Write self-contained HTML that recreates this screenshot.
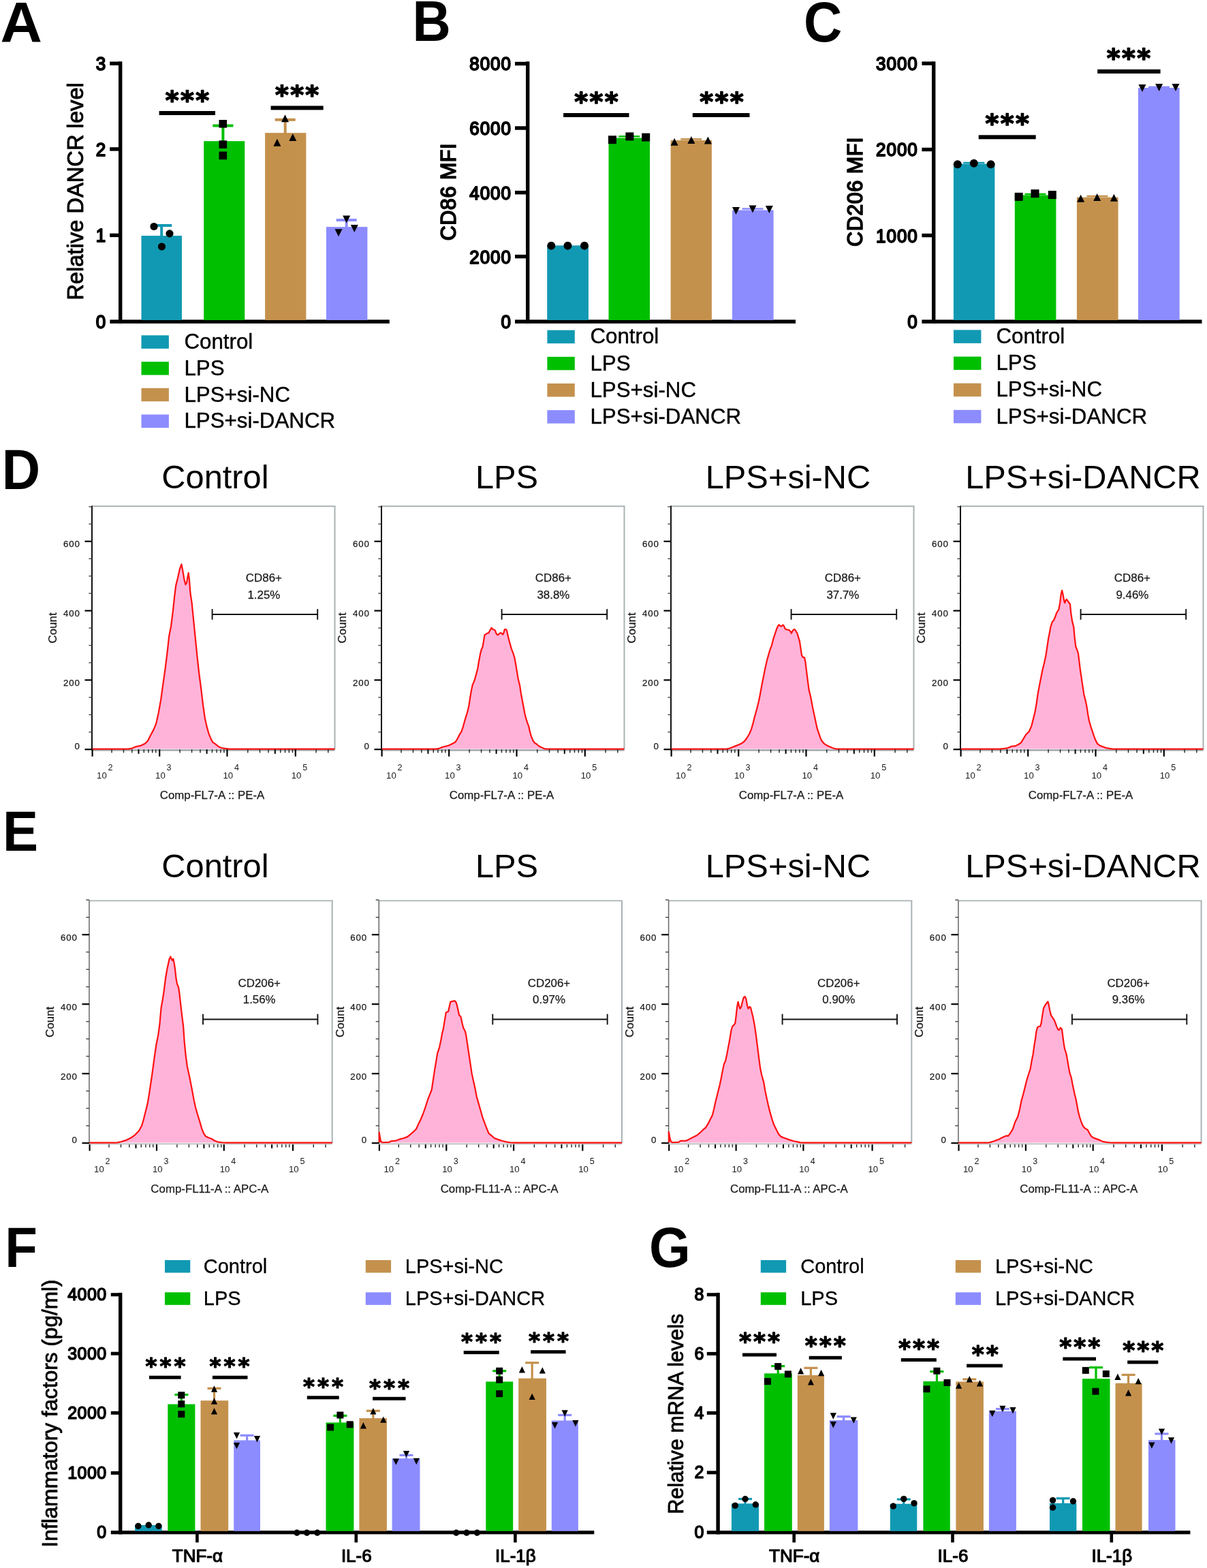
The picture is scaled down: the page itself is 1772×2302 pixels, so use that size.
<!DOCTYPE html>
<html><head><meta charset="utf-8"><title>Figure</title>
<style>
html,body{margin:0;padding:0;background:#fff;width:1772px;height:2302px;overflow:hidden}
svg{display:block}
svg text{font-family:"Liberation Sans",Arial,Helvetica,sans-serif}
</style></head><body>
<svg width="1772" height="2302" viewBox="0 0 1772 2302">
<rect x="0" y="0" width="1772" height="2302" fill="#fff"/>
<rect x="174" y="90.3" width="5.4" height="384.6" fill="#000" />
<rect x="161.4" y="469.4" width="410.4" height="5.5" fill="#000" />
<rect x="161.2" y="90.5" width="14.8" height="5.4" fill="#000" />
<rect x="161.2" y="216.2" width="14.8" height="5.4" fill="#000" />
<rect x="161.2" y="342.7" width="14.8" height="5.4" fill="#000" />
<text transform="translate(155.2 103.15) scale(1 1.040)" font-size="26" text-anchor="end"  stroke="#000" stroke-width="1.8" stroke-linejoin="round">3</text>
<text transform="translate(155.2 228.85) scale(1 1.040)" font-size="26" text-anchor="end"  stroke="#000" stroke-width="1.8" stroke-linejoin="round">2</text>
<text transform="translate(155.2 355.35) scale(1 1.040)" font-size="26" text-anchor="end"  stroke="#000" stroke-width="1.8" stroke-linejoin="round">1</text>
<text transform="translate(155.2 482.05) scale(1 1.040)" font-size="26" text-anchor="end"  stroke="#000" stroke-width="1.8" stroke-linejoin="round">0</text>
<text transform="translate(121.7 281) rotate(-90)" font-size="32.7" text-anchor="middle"  stroke="#000" stroke-width="0.9" stroke-linejoin="round">Relative DANCR level</text>
<rect x="207.5" y="346.1" width="59.5" height="123.9" fill="#1199b3" />
<rect x="299.2" y="207.2" width="60.1" height="262.8" fill="#00bf00" />
<rect x="389.1" y="195.1" width="60.3" height="274.9" fill="#c4914d" />
<rect x="479" y="333.1" width="60.4" height="136.9" fill="#8c8cff" />
<rect x="235.2" y="331" width="4" height="16.1" fill="#1199b3" />
<rect x="222.2" y="329" width="30" height="4" fill="#1199b3" />
<rect x="325.4" y="184.5" width="4" height="23.7" fill="#00bf00" />
<rect x="312.4" y="182.5" width="30" height="4" fill="#00bf00" />
<rect x="416.7" y="175.8" width="4" height="20.3" fill="#c4914d" />
<rect x="403.7" y="173.8" width="30" height="4" fill="#c4914d" />
<rect x="506.7" y="323.1" width="4" height="11" fill="#8c8cff" />
<rect x="493.7" y="321.1" width="30" height="4" fill="#8c8cff" />
<circle cx="226" cy="332.5" r="5.6" fill="#000"/>
<circle cx="249" cy="342.9" r="5.6" fill="#000"/>
<circle cx="237.5" cy="362" r="5.6" fill="#000"/>
<rect x="321.5" y="176" width="11.6" height="11.6" fill="#000" />
<rect x="321.5" y="206.3" width="11.6" height="11.6" fill="#000" />
<rect x="321.5" y="222.6" width="11.6" height="11.6" fill="#000" />
<polygon points="418.5,168.3 413,179.3 424,179.3" fill="#000"/>
<polygon points="429.8,196.1 424.3,207.1 435.3,207.1" fill="#000"/>
<polygon points="406.9,203.8 401.4,214.8 412.4,214.8" fill="#000"/>
<polygon points="508.7,327.5 503.2,316.5 514.2,316.5" fill="#000"/>
<polygon points="520.3,341.1 514.8,330.1 525.8,330.1" fill="#000"/>
<polygon points="497,347.3 491.5,336.3 502.5,336.3" fill="#000"/>
<rect x="233.6" y="163" width="82.4" height="6" fill="#000" />
<text x="252.7 274.9 297.1" y="160.1" font-size="38" font-weight="bold" text-anchor="middle" stroke="#000" stroke-width="1.6" stroke-linejoin="round" style="font-family:'DejaVu Sans','Liberation Sans',sans-serif">***</text>
<rect x="397.6" y="155.4" width="77.1" height="6" fill="#000" />
<text x="413.9 436.1 458.3" y="151.7" font-size="38" font-weight="bold" text-anchor="middle" stroke="#000" stroke-width="1.6" stroke-linejoin="round" style="font-family:'DejaVu Sans','Liberation Sans',sans-serif">***</text>
<rect x="207.5" y="492.3" width="40.4" height="19.5" fill="#1199b3" />
<text transform="translate(270.4 512) scale(1 1.030)" font-size="31.3"  stroke="#000" stroke-width="0.4" stroke-linejoin="round">Control</text>
<rect x="207.5" y="531.05" width="40.4" height="19.5" fill="#00bf00" />
<text transform="translate(270.4 550.75) scale(1 1.030)" font-size="31.3"  stroke="#000" stroke-width="0.4" stroke-linejoin="round">LPS</text>
<rect x="207.5" y="569.8" width="40.4" height="19.5" fill="#c4914d" />
<text transform="translate(270.4 589.5) scale(1 1.030)" font-size="31.3"  stroke="#000" stroke-width="0.4" stroke-linejoin="round">LPS+si-NC</text>
<rect x="207.5" y="608.55" width="40.4" height="19.5" fill="#8c8cff" />
<text transform="translate(270.4 628.25) scale(1 1.030)" font-size="31.3"  stroke="#000" stroke-width="0.4" stroke-linejoin="round">LPS+si-DANCR</text>
<rect x="772" y="90.3" width="5.4" height="384.6" fill="#000" />
<rect x="756" y="469.4" width="412" height="5.5" fill="#000" />
<rect x="756" y="90.8" width="18" height="5.4" fill="#000" />
<rect x="756" y="185.3" width="18" height="5.4" fill="#000" />
<rect x="756" y="280" width="18" height="5.4" fill="#000" />
<rect x="756" y="373.9" width="18" height="5.4" fill="#000" />
<text transform="translate(751 103.45) scale(1 1.040)" font-size="26" text-anchor="end"  letter-spacing="1" stroke="#000" stroke-width="1.8" stroke-linejoin="round">8000</text>
<text transform="translate(751 197.95) scale(1 1.040)" font-size="26" text-anchor="end"  letter-spacing="1" stroke="#000" stroke-width="1.8" stroke-linejoin="round">6000</text>
<text transform="translate(751 292.65) scale(1 1.040)" font-size="26" text-anchor="end"  letter-spacing="1" stroke="#000" stroke-width="1.8" stroke-linejoin="round">4000</text>
<text transform="translate(751 386.55) scale(1 1.040)" font-size="26" text-anchor="end"  letter-spacing="1" stroke="#000" stroke-width="1.8" stroke-linejoin="round">2000</text>
<text transform="translate(751 482.05) scale(1 1.040)" font-size="26" text-anchor="end"  letter-spacing="1" stroke="#000" stroke-width="1.8" stroke-linejoin="round">0</text>
<text transform="translate(669.4 281.6) rotate(-90)" font-size="30.5" text-anchor="middle" letter-spacing="0.55" stroke="#000" stroke-width="1.6" stroke-linejoin="round">CD86 MFI</text>
<rect x="803.2" y="360.4" width="60.8" height="109.6" fill="#1199b3" />
<rect x="893.5" y="202.5" width="60.5" height="267.5" fill="#00bf00" />
<rect x="984.6" y="206" width="60.3" height="264" fill="#c4914d" />
<rect x="1075" y="308.5" width="60.6" height="161.5" fill="#8c8cff" />
<rect x="922.45" y="200.2" width="2.5" height="1.8" fill="#00bf00" />
<rect x="908.2" y="198.95" width="31" height="2.5" fill="#00bf00" />
<rect x="1013.45" y="204.3" width="2.5" height="1.7" fill="#c4914d" />
<rect x="999.2" y="203.05" width="31" height="2.5" fill="#c4914d" />
<rect x="1103.75" y="306.5" width="2.5" height="1.5" fill="#8c8cff" />
<rect x="1089.5" y="305.25" width="31" height="2.5" fill="#8c8cff" />
<circle cx="809.3" cy="360.8" r="6" fill="#000"/>
<circle cx="833.5" cy="360.8" r="6" fill="#000"/>
<circle cx="858" cy="360.8" r="6" fill="#000"/>
<rect x="893" y="199.2" width="12" height="12" fill="#000" />
<rect x="918.4" y="194.4" width="12" height="12" fill="#000" />
<rect x="942.2" y="195.6" width="12" height="12" fill="#000" />
<polygon points="990.1,202.8 984.6,213.8 995.6,213.8" fill="#000"/>
<polygon points="1014.9,199.9 1009.4,210.9 1020.4,210.9" fill="#000"/>
<polygon points="1039.4,200.5 1033.9,211.5 1044.9,211.5" fill="#000"/>
<polygon points="1080.5,314.9 1075,303.9 1086,303.9" fill="#000"/>
<polygon points="1105,312.5 1099.5,301.5 1110.5,301.5" fill="#000"/>
<polygon points="1129.3,313 1123.8,302 1134.8,302" fill="#000"/>
<rect x="827.1" y="166" width="96.4" height="6" fill="#000" />
<text x="853.3 875.5 897.7" y="162.4" font-size="38" font-weight="bold" text-anchor="middle" stroke="#000" stroke-width="1.6" stroke-linejoin="round" style="font-family:'DejaVu Sans','Liberation Sans',sans-serif">***</text>
<rect x="1016.8" y="166" width="83.7" height="6" fill="#000" />
<text x="1037.2 1059.4 1081.6" y="162.4" font-size="38" font-weight="bold" text-anchor="middle" stroke="#000" stroke-width="1.6" stroke-linejoin="round" style="font-family:'DejaVu Sans','Liberation Sans',sans-serif">***</text>
<rect x="803.4" y="484.7" width="40.4" height="19.5" fill="#1199b3" />
<text transform="translate(866.4 504.4) scale(1 1.030)" font-size="31.3"  stroke="#000" stroke-width="0.4" stroke-linejoin="round">Control</text>
<rect x="803.4" y="523.85" width="40.4" height="19.5" fill="#00bf00" />
<text transform="translate(866.4 543.55) scale(1 1.030)" font-size="31.3"  stroke="#000" stroke-width="0.4" stroke-linejoin="round">LPS</text>
<rect x="803.4" y="563" width="40.4" height="19.5" fill="#c4914d" />
<text transform="translate(866.4 582.7) scale(1 1.030)" font-size="31.3"  stroke="#000" stroke-width="0.4" stroke-linejoin="round">LPS+si-NC</text>
<rect x="803.4" y="602.15" width="40.4" height="19.5" fill="#8c8cff" />
<text transform="translate(866.4 621.85) scale(1 1.030)" font-size="31.3"  stroke="#000" stroke-width="0.4" stroke-linejoin="round">LPS+si-DANCR</text>
<rect x="1368" y="90.3" width="5.4" height="384.6" fill="#000" />
<rect x="1353.4" y="469.4" width="411.1" height="5.5" fill="#000" />
<rect x="1353.4" y="90.4" width="16.6" height="5.4" fill="#000" />
<rect x="1353.4" y="216.8" width="16.6" height="5.4" fill="#000" />
<rect x="1353.4" y="342.9" width="16.6" height="5.4" fill="#000" />
<text transform="translate(1347.8 103.05) scale(1 1.040)" font-size="26" text-anchor="end"  letter-spacing="1" stroke="#000" stroke-width="1.8" stroke-linejoin="round">3000</text>
<text transform="translate(1347.8 229.45) scale(1 1.040)" font-size="26" text-anchor="end"  letter-spacing="1" stroke="#000" stroke-width="1.8" stroke-linejoin="round">2000</text>
<text transform="translate(1347.8 355.55) scale(1 1.040)" font-size="26" text-anchor="end"  letter-spacing="1" stroke="#000" stroke-width="1.8" stroke-linejoin="round">1000</text>
<text transform="translate(1347.8 482.05) scale(1 1.040)" font-size="26" text-anchor="end"  letter-spacing="1" stroke="#000" stroke-width="1.8" stroke-linejoin="round">0</text>
<text transform="translate(1266.2 281.5) rotate(-90)" font-size="30.5" text-anchor="middle" letter-spacing="0.55" stroke="#000" stroke-width="1.6" stroke-linejoin="round">CD206 MFI</text>
<rect x="1399.9" y="240.5" width="60.5" height="229.5" fill="#1199b3" />
<rect x="1489.8" y="286.5" width="60.6" height="183.5" fill="#00bf00" />
<rect x="1580.9" y="289.6" width="60.7" height="180.4" fill="#c4914d" />
<rect x="1671" y="129" width="60.7" height="341" fill="#8c8cff" />
<rect x="1428.55" y="239" width="2.5" height="2" fill="#1199b3" />
<rect x="1414.3" y="237.75" width="31" height="2.5" fill="#1199b3" />
<rect x="1518.75" y="285" width="2.5" height="2" fill="#00bf00" />
<rect x="1504.5" y="283.75" width="31" height="2.5" fill="#00bf00" />
<rect x="1609.75" y="288" width="2.5" height="2" fill="#c4914d" />
<rect x="1595.5" y="286.75" width="31" height="2.5" fill="#c4914d" />
<rect x="1700.25" y="127.8" width="2.5" height="1.7" fill="#8c8cff" />
<rect x="1686" y="126.55" width="31" height="2.5" fill="#8c8cff" />
<circle cx="1405.8" cy="241.3" r="6" fill="#000"/>
<circle cx="1429.8" cy="239.7" r="6" fill="#000"/>
<circle cx="1454.6" cy="241.3" r="6" fill="#000"/>
<rect x="1489.7" y="282.9" width="12" height="12" fill="#000" />
<rect x="1513.5" y="278.2" width="12" height="12" fill="#000" />
<rect x="1538.8" y="280.1" width="12" height="12" fill="#000" />
<polygon points="1586.6,285.8 1581.1,296.8 1592.1,296.8" fill="#000"/>
<polygon points="1610.7,284.1 1605.2,295.1 1616.2,295.1" fill="#000"/>
<polygon points="1635.4,284.8 1629.9,295.8 1640.9,295.8" fill="#000"/>
<polygon points="1677,135 1671.5,124 1682.5,124" fill="#000"/>
<polygon points="1701.6,134 1696.1,123 1707.1,123" fill="#000"/>
<polygon points="1726,134 1720.5,123 1731.5,123" fill="#000"/>
<rect x="1436.7" y="198.3" width="84" height="6" fill="#000" />
<text x="1456.5 1478.7 1500.9" y="194.4" font-size="38" font-weight="bold" text-anchor="middle" stroke="#000" stroke-width="1.6" stroke-linejoin="round" style="font-family:'DejaVu Sans','Liberation Sans',sans-serif">***</text>
<rect x="1611.2" y="101.9" width="92.4" height="6" fill="#000" />
<text x="1634.8 1657 1679.2" y="98.4" font-size="38" font-weight="bold" text-anchor="middle" stroke="#000" stroke-width="1.6" stroke-linejoin="round" style="font-family:'DejaVu Sans','Liberation Sans',sans-serif">***</text>
<rect x="1400" y="484.4" width="40.4" height="19.5" fill="#1199b3" />
<text transform="translate(1462.4 504.1) scale(1 1.030)" font-size="31.3"  stroke="#000" stroke-width="0.4" stroke-linejoin="round">Control</text>
<rect x="1400" y="523.55" width="40.4" height="19.5" fill="#00bf00" />
<text transform="translate(1462.4 543.25) scale(1 1.030)" font-size="31.3"  stroke="#000" stroke-width="0.4" stroke-linejoin="round">LPS</text>
<rect x="1400" y="562.7" width="40.4" height="19.5" fill="#c4914d" />
<text transform="translate(1462.4 582.4) scale(1 1.030)" font-size="31.3"  stroke="#000" stroke-width="0.4" stroke-linejoin="round">LPS+si-NC</text>
<rect x="1400" y="601.85" width="40.4" height="19.5" fill="#8c8cff" />
<text transform="translate(1462.4 621.55) scale(1 1.030)" font-size="31.3"  stroke="#000" stroke-width="0.4" stroke-linejoin="round">LPS+si-DANCR</text>
<text transform="translate(0.4 62) scale(1.09 1.080)" font-size="78" font-weight="bold" >A</text>
<text transform="translate(605.6 60.4) scale(1 1.080)" font-size="78" font-weight="bold" >B</text>
<text transform="translate(1180.1 60.6) scale(1 1.080)" font-size="78" font-weight="bold" >C</text>
<text transform="translate(2.8 718.4) scale(1 1.080)" font-size="78" font-weight="bold" >D</text>
<text transform="translate(4.1 1248.9) scale(1 1.080)" font-size="78" font-weight="bold" >E</text>
<text transform="translate(7.3 1860.1) scale(1 1.080)" font-size="78" font-weight="bold" >F</text>
<text transform="translate(953.1 1860.2) scale(1 1.080)" font-size="78" font-weight="bold" >G</text>
<path d="M135.5,1099.6 L184,1099.6 L188,1099.6 L194,1098.6 L200,1096 L207.1,1094.58 L212.78,1091.74 L217.04,1087.48 L221.29,1078.96 L225.55,1071.15 L229.1,1062.63 L232.65,1047.02 L236.2,1027.14 L239.75,1001.59 L242.59,981.71 L245.43,959 L248.27,933.45 L251.11,919.25 L253.95,896.54 L256.08,876.66 L258.21,859.63 L261.04,848.27 L263.88,835.49 L266.44,828.39 L268.14,836.91 L270.27,849.69 L272.4,858.21 L274.11,855.37 L275.53,846.85 L276.66,841.17 L277.8,849.69 L279.5,870.98 L281.63,885.18 L283.76,906.47 L286.6,934.87 L289.44,963.26 L292.28,988.81 L295.12,1010.11 L297.96,1034.24 L300.8,1054.12 L303.63,1066.89 L306.47,1076.83 L309.31,1083.93 L312.15,1089.61 L316.41,1092.45 L320.67,1096 L324.93,1098.13 L330.61,1098.84 L336.29,1099.6 L340.29,1099.6 L491.5,1099.6 Z" fill="#ffb3d9" stroke="none"/>
<line x1="135" y1="743.3" x2="492.5" y2="743.3" stroke="#a9b2b4" stroke-width="1.9" />
<line x1="491.5" y1="742.9" x2="491.5" y2="1100.2" stroke="#a9b2b4" stroke-width="2" />
<line x1="135" y1="1101.4" x2="491.5" y2="1101.4" stroke="#9aa0a2" stroke-width="2.4" />
<line x1="135" y1="742.4" x2="135" y2="1101.2" stroke="#111" stroke-width="2" />
<path d="M135.5,1099.6 L184,1099.6 L188,1099.6 L194,1098.6 L200,1096 L207.1,1094.58 L212.78,1091.74 L217.04,1087.48 L221.29,1078.96 L225.55,1071.15 L229.1,1062.63 L232.65,1047.02 L236.2,1027.14 L239.75,1001.59 L242.59,981.71 L245.43,959 L248.27,933.45 L251.11,919.25 L253.95,896.54 L256.08,876.66 L258.21,859.63 L261.04,848.27 L263.88,835.49 L266.44,828.39 L268.14,836.91 L270.27,849.69 L272.4,858.21 L274.11,855.37 L275.53,846.85 L276.66,841.17 L277.8,849.69 L279.5,870.98 L281.63,885.18 L283.76,906.47 L286.6,934.87 L289.44,963.26 L292.28,988.81 L295.12,1010.11 L297.96,1034.24 L300.8,1054.12 L303.63,1066.89 L306.47,1076.83 L309.31,1083.93 L312.15,1089.61 L316.41,1092.45 L320.67,1096 L324.93,1098.13 L330.61,1098.84 L336.29,1099.6 L340.29,1099.6 L491.5,1099.6" fill="none" stroke="#ff1010" stroke-width="2.2" stroke-linejoin="round"/>
<line x1="124.5" y1="1100.2" x2="135" y2="1100.2" stroke="#000" stroke-width="2.2" />
<line x1="130.4" y1="1074.75" x2="135" y2="1074.75" stroke="#444" stroke-width="1.4" />
<line x1="130.4" y1="1049.3" x2="135" y2="1049.3" stroke="#444" stroke-width="1.4" />
<line x1="130.4" y1="1023.85" x2="135" y2="1023.85" stroke="#444" stroke-width="1.4" />
<line x1="124.5" y1="998.4" x2="135" y2="998.4" stroke="#000" stroke-width="2.2" />
<line x1="130.4" y1="972.95" x2="135" y2="972.95" stroke="#444" stroke-width="1.4" />
<line x1="130.4" y1="947.5" x2="135" y2="947.5" stroke="#444" stroke-width="1.4" />
<line x1="130.4" y1="922.05" x2="135" y2="922.05" stroke="#444" stroke-width="1.4" />
<line x1="124.5" y1="896.6" x2="135" y2="896.6" stroke="#000" stroke-width="2.2" />
<line x1="130.4" y1="871.15" x2="135" y2="871.15" stroke="#444" stroke-width="1.4" />
<line x1="130.4" y1="845.7" x2="135" y2="845.7" stroke="#444" stroke-width="1.4" />
<line x1="130.4" y1="820.25" x2="135" y2="820.25" stroke="#444" stroke-width="1.4" />
<line x1="124.5" y1="794.8" x2="135" y2="794.8" stroke="#000" stroke-width="2.2" />
<line x1="130.4" y1="769.35" x2="135" y2="769.35" stroke="#444" stroke-width="1.4" />
<line x1="130.4" y1="743.9" x2="135" y2="743.9" stroke="#444" stroke-width="1.4" />
<text transform="translate(117.8 1100.4)" font-size="13.3" text-anchor="end" fill="#1a1a1a" letter-spacing="0.9" stroke="#1a1a1a" stroke-width="0.25" stroke-linejoin="round">0</text>
<text transform="translate(117.8 1006.7)" font-size="13.3" text-anchor="end" fill="#1a1a1a" letter-spacing="0.9" stroke="#1a1a1a" stroke-width="0.25" stroke-linejoin="round">200</text>
<text transform="translate(117.8 904.9)" font-size="13.3" text-anchor="end" fill="#1a1a1a" letter-spacing="0.9" stroke="#1a1a1a" stroke-width="0.25" stroke-linejoin="round">400</text>
<text transform="translate(117.8 803.1)" font-size="13.3" text-anchor="end" fill="#1a1a1a" letter-spacing="0.9" stroke="#1a1a1a" stroke-width="0.25" stroke-linejoin="round">600</text>
<text transform="translate(83.4 921.85) rotate(-90)" font-size="16.9" text-anchor="middle" fill="#1a1a1a"  stroke="#1a1a1a" stroke-width="0.3" stroke-linejoin="round">Count</text>
<line x1="135.6" y1="1100.2" x2="135.6" y2="1110.6" stroke="#000" stroke-width="2.2" />
<line x1="164.03" y1="1100.2" x2="164.03" y2="1105.2" stroke="#222" stroke-width="1.4" />
<line x1="181.48" y1="1100.2" x2="181.48" y2="1105.2" stroke="#222" stroke-width="1.4" />
<line x1="193.86" y1="1100.2" x2="193.86" y2="1105.2" stroke="#222" stroke-width="1.4" />
<line x1="203.47" y1="1100.2" x2="203.47" y2="1106.7" stroke="#000" stroke-width="2" />
<line x1="211.31" y1="1100.2" x2="211.31" y2="1105.2" stroke="#222" stroke-width="1.4" />
<line x1="217.95" y1="1100.2" x2="217.95" y2="1105.2" stroke="#222" stroke-width="1.4" />
<line x1="223.7" y1="1100.2" x2="223.7" y2="1105.2" stroke="#222" stroke-width="1.4" />
<line x1="228.77" y1="1100.2" x2="228.77" y2="1105.2" stroke="#222" stroke-width="1.4" />
<text transform="translate(142.1 1142.5)" font-size="13.2" fill="#1a1a1a" >10</text>
<text transform="translate(158.6 1131)" font-size="12.6" fill="#1a1a1a" >2</text>
<line x1="234.2" y1="1100.2" x2="234.2" y2="1110.6" stroke="#000" stroke-width="2.2" />
<line x1="264.09" y1="1100.2" x2="264.09" y2="1105.2" stroke="#222" stroke-width="1.4" />
<line x1="281.58" y1="1100.2" x2="281.58" y2="1105.2" stroke="#222" stroke-width="1.4" />
<line x1="293.98" y1="1100.2" x2="293.98" y2="1105.2" stroke="#222" stroke-width="1.4" />
<line x1="303.61" y1="1100.2" x2="303.61" y2="1106.7" stroke="#000" stroke-width="2" />
<line x1="311.47" y1="1100.2" x2="311.47" y2="1105.2" stroke="#222" stroke-width="1.4" />
<line x1="318.12" y1="1100.2" x2="318.12" y2="1105.2" stroke="#222" stroke-width="1.4" />
<line x1="323.88" y1="1100.2" x2="323.88" y2="1105.2" stroke="#222" stroke-width="1.4" />
<line x1="328.96" y1="1100.2" x2="328.96" y2="1105.2" stroke="#222" stroke-width="1.4" />
<text transform="translate(228.1 1142.5)" font-size="13.2" fill="#1a1a1a" >10</text>
<text transform="translate(244.6 1131)" font-size="12.6" fill="#1a1a1a" >3</text>
<line x1="333.5" y1="1100.2" x2="333.5" y2="1110.6" stroke="#000" stroke-width="2.2" />
<line x1="363.78" y1="1100.2" x2="363.78" y2="1105.2" stroke="#222" stroke-width="1.4" />
<line x1="381.5" y1="1100.2" x2="381.5" y2="1105.2" stroke="#222" stroke-width="1.4" />
<line x1="394.07" y1="1100.2" x2="394.07" y2="1105.2" stroke="#222" stroke-width="1.4" />
<line x1="403.82" y1="1100.2" x2="403.82" y2="1106.7" stroke="#000" stroke-width="2" />
<line x1="411.78" y1="1100.2" x2="411.78" y2="1105.2" stroke="#222" stroke-width="1.4" />
<line x1="418.52" y1="1100.2" x2="418.52" y2="1105.2" stroke="#222" stroke-width="1.4" />
<line x1="424.35" y1="1100.2" x2="424.35" y2="1105.2" stroke="#222" stroke-width="1.4" />
<line x1="429.5" y1="1100.2" x2="429.5" y2="1105.2" stroke="#222" stroke-width="1.4" />
<text transform="translate(327.4 1142.5)" font-size="13.2" fill="#1a1a1a" >10</text>
<text transform="translate(343.9 1131)" font-size="12.6" fill="#1a1a1a" >4</text>
<line x1="433.8" y1="1100.2" x2="433.8" y2="1110.6" stroke="#000" stroke-width="2.2" />
<line x1="464.08" y1="1100.2" x2="464.08" y2="1105.2" stroke="#222" stroke-width="1.4" />
<line x1="481.8" y1="1100.2" x2="481.8" y2="1105.2" stroke="#222" stroke-width="1.4" />
<text transform="translate(427.7 1142.5)" font-size="13.2" fill="#1a1a1a" >10</text>
<text transform="translate(444.2 1131)" font-size="12.6" fill="#1a1a1a" >5</text>
<text transform="translate(311.5 1173.1)" font-size="16.85" text-anchor="middle" fill="#1a1a1a"  stroke="#1a1a1a" stroke-width="0.25" stroke-linejoin="round">Comp-FL7-A :: PE-A</text>
<line x1="311.6" y1="901.9" x2="466.2" y2="901.9" stroke="#111" stroke-width="2" />
<line x1="311.6" y1="894.1" x2="311.6" y2="909.7" stroke="#111" stroke-width="1.9" />
<line x1="466.2" y1="894.1" x2="466.2" y2="909.7" stroke="#111" stroke-width="1.9" />
<text transform="translate(387.4 854)" font-size="16.9" text-anchor="middle" fill="#1a1a1a"  stroke="#1a1a1a" stroke-width="0.25" stroke-linejoin="round">CD86+</text>
<text transform="translate(387.4 878.8)" font-size="16.9" text-anchor="middle" fill="#1a1a1a"  stroke="#1a1a1a" stroke-width="0.25" stroke-linejoin="round">1.25%</text>
<text transform="translate(315.9 717) scale(1 0.970)" font-size="48.8" text-anchor="middle" >Control</text>
<path d="M560.5,1099.6 L640.28,1099.6 L644.28,1098.93 L649.04,1096.91 L653.8,1095.72 L658.55,1094.53 L663.31,1092.15 L668.07,1089.77 L671.05,1085.6 L674.02,1079.65 L677.59,1073.71 L679.97,1066.57 L682.94,1055.86 L685.92,1046.34 L688.3,1036.82 L690.08,1024.93 L691.87,1014.22 L693.65,1005.89 L696.63,998.75 L699.01,990.42 L701.39,980.9 L703.17,970.2 L704.96,960.68 L706.74,953.54 L708.52,949.97 L709.95,941.64 L711.5,932.12 L713.28,931.17 L715.07,929.74 L717.45,929.15 L719.23,925.58 L721.61,921.65 L723.4,923.8 L725.18,924.39 L726.97,925.58 L728.16,929.15 L729.35,931.53 L731.13,932.12 L732.91,930.34 L734.7,929.15 L736.48,929.74 L738.27,931.53 L739.7,928.55 L740.65,924.39 L742.43,923.8 L743.98,925.58 L745.41,932.12 L747.19,939.26 L748.98,945.81 L750.76,952.35 L753.14,958.3 L755.52,966.03 L757.31,976.15 L759.09,986.85 L760.87,997.56 L763.25,1007.08 L765.04,1018.98 L766.82,1028.49 L768.61,1038.01 L770.39,1047.53 L772.18,1054.67 L774.56,1061.81 L776.34,1066.57 L778.13,1074.9 L779.91,1080.84 L782.29,1086.79 L784.67,1090.36 L788.24,1092.74 L791.81,1095.72 L795.38,1097.5 L798.95,1099.05 L802.95,1099.6 L916.5,1099.6 Z" fill="#ffb3d9" stroke="none"/>
<line x1="560" y1="743.3" x2="917.5" y2="743.3" stroke="#a9b2b4" stroke-width="1.9" />
<line x1="916.5" y1="742.9" x2="916.5" y2="1100.2" stroke="#a9b2b4" stroke-width="2" />
<line x1="560" y1="1101.4" x2="916.5" y2="1101.4" stroke="#9aa0a2" stroke-width="2.4" />
<line x1="560" y1="742.4" x2="560" y2="1101.2" stroke="#111" stroke-width="2" />
<path d="M560.5,1099.6 L640.28,1099.6 L644.28,1098.93 L649.04,1096.91 L653.8,1095.72 L658.55,1094.53 L663.31,1092.15 L668.07,1089.77 L671.05,1085.6 L674.02,1079.65 L677.59,1073.71 L679.97,1066.57 L682.94,1055.86 L685.92,1046.34 L688.3,1036.82 L690.08,1024.93 L691.87,1014.22 L693.65,1005.89 L696.63,998.75 L699.01,990.42 L701.39,980.9 L703.17,970.2 L704.96,960.68 L706.74,953.54 L708.52,949.97 L709.95,941.64 L711.5,932.12 L713.28,931.17 L715.07,929.74 L717.45,929.15 L719.23,925.58 L721.61,921.65 L723.4,923.8 L725.18,924.39 L726.97,925.58 L728.16,929.15 L729.35,931.53 L731.13,932.12 L732.91,930.34 L734.7,929.15 L736.48,929.74 L738.27,931.53 L739.7,928.55 L740.65,924.39 L742.43,923.8 L743.98,925.58 L745.41,932.12 L747.19,939.26 L748.98,945.81 L750.76,952.35 L753.14,958.3 L755.52,966.03 L757.31,976.15 L759.09,986.85 L760.87,997.56 L763.25,1007.08 L765.04,1018.98 L766.82,1028.49 L768.61,1038.01 L770.39,1047.53 L772.18,1054.67 L774.56,1061.81 L776.34,1066.57 L778.13,1074.9 L779.91,1080.84 L782.29,1086.79 L784.67,1090.36 L788.24,1092.74 L791.81,1095.72 L795.38,1097.5 L798.95,1099.05 L802.95,1099.6 L916.5,1099.6" fill="none" stroke="#ff1010" stroke-width="2.2" stroke-linejoin="round"/>
<line x1="549.5" y1="1100.2" x2="560" y2="1100.2" stroke="#000" stroke-width="2.2" />
<line x1="555.4" y1="1074.75" x2="560" y2="1074.75" stroke="#444" stroke-width="1.4" />
<line x1="555.4" y1="1049.3" x2="560" y2="1049.3" stroke="#444" stroke-width="1.4" />
<line x1="555.4" y1="1023.85" x2="560" y2="1023.85" stroke="#444" stroke-width="1.4" />
<line x1="549.5" y1="998.4" x2="560" y2="998.4" stroke="#000" stroke-width="2.2" />
<line x1="555.4" y1="972.95" x2="560" y2="972.95" stroke="#444" stroke-width="1.4" />
<line x1="555.4" y1="947.5" x2="560" y2="947.5" stroke="#444" stroke-width="1.4" />
<line x1="555.4" y1="922.05" x2="560" y2="922.05" stroke="#444" stroke-width="1.4" />
<line x1="549.5" y1="896.6" x2="560" y2="896.6" stroke="#000" stroke-width="2.2" />
<line x1="555.4" y1="871.15" x2="560" y2="871.15" stroke="#444" stroke-width="1.4" />
<line x1="555.4" y1="845.7" x2="560" y2="845.7" stroke="#444" stroke-width="1.4" />
<line x1="555.4" y1="820.25" x2="560" y2="820.25" stroke="#444" stroke-width="1.4" />
<line x1="549.5" y1="794.8" x2="560" y2="794.8" stroke="#000" stroke-width="2.2" />
<line x1="555.4" y1="769.35" x2="560" y2="769.35" stroke="#444" stroke-width="1.4" />
<line x1="555.4" y1="743.9" x2="560" y2="743.9" stroke="#444" stroke-width="1.4" />
<text transform="translate(542.8 1100.4)" font-size="13.3" text-anchor="end" fill="#1a1a1a" letter-spacing="0.9" stroke="#1a1a1a" stroke-width="0.25" stroke-linejoin="round">0</text>
<text transform="translate(542.8 1006.7)" font-size="13.3" text-anchor="end" fill="#1a1a1a" letter-spacing="0.9" stroke="#1a1a1a" stroke-width="0.25" stroke-linejoin="round">200</text>
<text transform="translate(542.8 904.9)" font-size="13.3" text-anchor="end" fill="#1a1a1a" letter-spacing="0.9" stroke="#1a1a1a" stroke-width="0.25" stroke-linejoin="round">400</text>
<text transform="translate(542.8 803.1)" font-size="13.3" text-anchor="end" fill="#1a1a1a" letter-spacing="0.9" stroke="#1a1a1a" stroke-width="0.25" stroke-linejoin="round">600</text>
<text transform="translate(508.4 921.85) rotate(-90)" font-size="16.9" text-anchor="middle" fill="#1a1a1a"  stroke="#1a1a1a" stroke-width="0.3" stroke-linejoin="round">Count</text>
<line x1="560.6" y1="1100.2" x2="560.6" y2="1110.6" stroke="#000" stroke-width="2.2" />
<line x1="589.03" y1="1100.2" x2="589.03" y2="1105.2" stroke="#222" stroke-width="1.4" />
<line x1="606.48" y1="1100.2" x2="606.48" y2="1105.2" stroke="#222" stroke-width="1.4" />
<line x1="618.86" y1="1100.2" x2="618.86" y2="1105.2" stroke="#222" stroke-width="1.4" />
<line x1="628.47" y1="1100.2" x2="628.47" y2="1106.7" stroke="#000" stroke-width="2" />
<line x1="636.31" y1="1100.2" x2="636.31" y2="1105.2" stroke="#222" stroke-width="1.4" />
<line x1="642.95" y1="1100.2" x2="642.95" y2="1105.2" stroke="#222" stroke-width="1.4" />
<line x1="648.7" y1="1100.2" x2="648.7" y2="1105.2" stroke="#222" stroke-width="1.4" />
<line x1="653.77" y1="1100.2" x2="653.77" y2="1105.2" stroke="#222" stroke-width="1.4" />
<text transform="translate(567.1 1142.5)" font-size="13.2" fill="#1a1a1a" >10</text>
<text transform="translate(583.6 1131)" font-size="12.6" fill="#1a1a1a" >2</text>
<line x1="659.2" y1="1100.2" x2="659.2" y2="1110.6" stroke="#000" stroke-width="2.2" />
<line x1="689.09" y1="1100.2" x2="689.09" y2="1105.2" stroke="#222" stroke-width="1.4" />
<line x1="706.58" y1="1100.2" x2="706.58" y2="1105.2" stroke="#222" stroke-width="1.4" />
<line x1="718.98" y1="1100.2" x2="718.98" y2="1105.2" stroke="#222" stroke-width="1.4" />
<line x1="728.61" y1="1100.2" x2="728.61" y2="1106.7" stroke="#000" stroke-width="2" />
<line x1="736.47" y1="1100.2" x2="736.47" y2="1105.2" stroke="#222" stroke-width="1.4" />
<line x1="743.12" y1="1100.2" x2="743.12" y2="1105.2" stroke="#222" stroke-width="1.4" />
<line x1="748.88" y1="1100.2" x2="748.88" y2="1105.2" stroke="#222" stroke-width="1.4" />
<line x1="753.96" y1="1100.2" x2="753.96" y2="1105.2" stroke="#222" stroke-width="1.4" />
<text transform="translate(653.1 1142.5)" font-size="13.2" fill="#1a1a1a" >10</text>
<text transform="translate(669.6 1131)" font-size="12.6" fill="#1a1a1a" >3</text>
<line x1="758.5" y1="1100.2" x2="758.5" y2="1110.6" stroke="#000" stroke-width="2.2" />
<line x1="788.78" y1="1100.2" x2="788.78" y2="1105.2" stroke="#222" stroke-width="1.4" />
<line x1="806.5" y1="1100.2" x2="806.5" y2="1105.2" stroke="#222" stroke-width="1.4" />
<line x1="819.07" y1="1100.2" x2="819.07" y2="1105.2" stroke="#222" stroke-width="1.4" />
<line x1="828.82" y1="1100.2" x2="828.82" y2="1106.7" stroke="#000" stroke-width="2" />
<line x1="836.78" y1="1100.2" x2="836.78" y2="1105.2" stroke="#222" stroke-width="1.4" />
<line x1="843.52" y1="1100.2" x2="843.52" y2="1105.2" stroke="#222" stroke-width="1.4" />
<line x1="849.35" y1="1100.2" x2="849.35" y2="1105.2" stroke="#222" stroke-width="1.4" />
<line x1="854.5" y1="1100.2" x2="854.5" y2="1105.2" stroke="#222" stroke-width="1.4" />
<text transform="translate(752.4 1142.5)" font-size="13.2" fill="#1a1a1a" >10</text>
<text transform="translate(768.9 1131)" font-size="12.6" fill="#1a1a1a" >4</text>
<line x1="858.8" y1="1100.2" x2="858.8" y2="1110.6" stroke="#000" stroke-width="2.2" />
<line x1="889.08" y1="1100.2" x2="889.08" y2="1105.2" stroke="#222" stroke-width="1.4" />
<line x1="906.8" y1="1100.2" x2="906.8" y2="1105.2" stroke="#222" stroke-width="1.4" />
<text transform="translate(852.7 1142.5)" font-size="13.2" fill="#1a1a1a" >10</text>
<text transform="translate(869.2 1131)" font-size="12.6" fill="#1a1a1a" >5</text>
<text transform="translate(736.5 1173.1)" font-size="16.85" text-anchor="middle" fill="#1a1a1a"  stroke="#1a1a1a" stroke-width="0.25" stroke-linejoin="round">Comp-FL7-A :: PE-A</text>
<line x1="736.6" y1="901.9" x2="891.2" y2="901.9" stroke="#111" stroke-width="2" />
<line x1="736.6" y1="894.1" x2="736.6" y2="909.7" stroke="#111" stroke-width="1.9" />
<line x1="891.2" y1="894.1" x2="891.2" y2="909.7" stroke="#111" stroke-width="1.9" />
<text transform="translate(812.4 854)" font-size="16.9" text-anchor="middle" fill="#1a1a1a"  stroke="#1a1a1a" stroke-width="0.25" stroke-linejoin="round">CD86+</text>
<text transform="translate(812.4 878.8)" font-size="16.9" text-anchor="middle" fill="#1a1a1a"  stroke="#1a1a1a" stroke-width="0.25" stroke-linejoin="round">38.8%</text>
<text transform="translate(744 717) scale(1 0.970)" font-size="48.8" text-anchor="middle" >LPS</text>
<path d="M985.5,1099.6 L1066.47,1099.6 L1070.47,1098.93 L1075.23,1096.91 L1079.99,1095.12 L1084.74,1093.34 L1089.5,1090.96 L1093.07,1087.98 L1096.64,1083.22 L1100.21,1077.28 L1103.19,1070.14 L1105.57,1061.81 L1107.94,1052.29 L1110.92,1041.58 L1113.89,1029.68 L1116.27,1017.79 L1118.65,1004.7 L1121.03,992.8 L1123.41,980.9 L1125.79,970.2 L1128.17,961.87 L1130.55,953.54 L1132.93,947.59 L1135.31,938.07 L1137.69,930.93 L1140.07,923.8 L1141.85,919.63 L1143.64,917.25 L1145.42,918.8 L1147.21,919.63 L1148.99,917.61 L1150.18,917.85 L1151.61,920.82 L1153.16,923.8 L1155.54,924.39 L1158.51,924.99 L1160.29,926.77 L1161.84,929.74 L1163.27,926.77 L1165.05,924.39 L1166.84,924.03 L1168.62,926.77 L1170.41,929.74 L1172.19,935.69 L1173.98,941.64 L1175.4,951.16 L1176.95,961.87 L1178.74,964.84 L1181.12,965.44 L1182.54,972.58 L1184.09,985.66 L1185.87,999.94 L1187.66,1013.03 L1190.04,1022.55 L1191.82,1032.06 L1193.61,1041.58 L1195.99,1052.29 L1197.77,1060.62 L1199.56,1068.95 L1201.94,1076.09 L1204.32,1083.22 L1206.7,1087.98 L1209.67,1091.55 L1213.24,1093.93 L1218,1096.31 L1221.57,1097.74 L1225.14,1099.05 L1229.14,1099.6 L1341.5,1099.6 Z" fill="#ffb3d9" stroke="none"/>
<line x1="985" y1="743.3" x2="1342.5" y2="743.3" stroke="#a9b2b4" stroke-width="1.9" />
<line x1="1341.5" y1="742.9" x2="1341.5" y2="1100.2" stroke="#a9b2b4" stroke-width="2" />
<line x1="985" y1="1101.4" x2="1341.5" y2="1101.4" stroke="#9aa0a2" stroke-width="2.4" />
<line x1="985" y1="742.4" x2="985" y2="1101.2" stroke="#111" stroke-width="2" />
<path d="M985.5,1099.6 L1066.47,1099.6 L1070.47,1098.93 L1075.23,1096.91 L1079.99,1095.12 L1084.74,1093.34 L1089.5,1090.96 L1093.07,1087.98 L1096.64,1083.22 L1100.21,1077.28 L1103.19,1070.14 L1105.57,1061.81 L1107.94,1052.29 L1110.92,1041.58 L1113.89,1029.68 L1116.27,1017.79 L1118.65,1004.7 L1121.03,992.8 L1123.41,980.9 L1125.79,970.2 L1128.17,961.87 L1130.55,953.54 L1132.93,947.59 L1135.31,938.07 L1137.69,930.93 L1140.07,923.8 L1141.85,919.63 L1143.64,917.25 L1145.42,918.8 L1147.21,919.63 L1148.99,917.61 L1150.18,917.85 L1151.61,920.82 L1153.16,923.8 L1155.54,924.39 L1158.51,924.99 L1160.29,926.77 L1161.84,929.74 L1163.27,926.77 L1165.05,924.39 L1166.84,924.03 L1168.62,926.77 L1170.41,929.74 L1172.19,935.69 L1173.98,941.64 L1175.4,951.16 L1176.95,961.87 L1178.74,964.84 L1181.12,965.44 L1182.54,972.58 L1184.09,985.66 L1185.87,999.94 L1187.66,1013.03 L1190.04,1022.55 L1191.82,1032.06 L1193.61,1041.58 L1195.99,1052.29 L1197.77,1060.62 L1199.56,1068.95 L1201.94,1076.09 L1204.32,1083.22 L1206.7,1087.98 L1209.67,1091.55 L1213.24,1093.93 L1218,1096.31 L1221.57,1097.74 L1225.14,1099.05 L1229.14,1099.6 L1341.5,1099.6" fill="none" stroke="#ff1010" stroke-width="2.2" stroke-linejoin="round"/>
<line x1="974.5" y1="1100.2" x2="985" y2="1100.2" stroke="#000" stroke-width="2.2" />
<line x1="980.4" y1="1074.75" x2="985" y2="1074.75" stroke="#444" stroke-width="1.4" />
<line x1="980.4" y1="1049.3" x2="985" y2="1049.3" stroke="#444" stroke-width="1.4" />
<line x1="980.4" y1="1023.85" x2="985" y2="1023.85" stroke="#444" stroke-width="1.4" />
<line x1="974.5" y1="998.4" x2="985" y2="998.4" stroke="#000" stroke-width="2.2" />
<line x1="980.4" y1="972.95" x2="985" y2="972.95" stroke="#444" stroke-width="1.4" />
<line x1="980.4" y1="947.5" x2="985" y2="947.5" stroke="#444" stroke-width="1.4" />
<line x1="980.4" y1="922.05" x2="985" y2="922.05" stroke="#444" stroke-width="1.4" />
<line x1="974.5" y1="896.6" x2="985" y2="896.6" stroke="#000" stroke-width="2.2" />
<line x1="980.4" y1="871.15" x2="985" y2="871.15" stroke="#444" stroke-width="1.4" />
<line x1="980.4" y1="845.7" x2="985" y2="845.7" stroke="#444" stroke-width="1.4" />
<line x1="980.4" y1="820.25" x2="985" y2="820.25" stroke="#444" stroke-width="1.4" />
<line x1="974.5" y1="794.8" x2="985" y2="794.8" stroke="#000" stroke-width="2.2" />
<line x1="980.4" y1="769.35" x2="985" y2="769.35" stroke="#444" stroke-width="1.4" />
<line x1="980.4" y1="743.9" x2="985" y2="743.9" stroke="#444" stroke-width="1.4" />
<text transform="translate(967.8 1100.4)" font-size="13.3" text-anchor="end" fill="#1a1a1a" letter-spacing="0.9" stroke="#1a1a1a" stroke-width="0.25" stroke-linejoin="round">0</text>
<text transform="translate(967.8 1006.7)" font-size="13.3" text-anchor="end" fill="#1a1a1a" letter-spacing="0.9" stroke="#1a1a1a" stroke-width="0.25" stroke-linejoin="round">200</text>
<text transform="translate(967.8 904.9)" font-size="13.3" text-anchor="end" fill="#1a1a1a" letter-spacing="0.9" stroke="#1a1a1a" stroke-width="0.25" stroke-linejoin="round">400</text>
<text transform="translate(967.8 803.1)" font-size="13.3" text-anchor="end" fill="#1a1a1a" letter-spacing="0.9" stroke="#1a1a1a" stroke-width="0.25" stroke-linejoin="round">600</text>
<text transform="translate(933.4 921.85) rotate(-90)" font-size="16.9" text-anchor="middle" fill="#1a1a1a"  stroke="#1a1a1a" stroke-width="0.3" stroke-linejoin="round">Count</text>
<line x1="985.6" y1="1100.2" x2="985.6" y2="1110.6" stroke="#000" stroke-width="2.2" />
<line x1="1014.03" y1="1100.2" x2="1014.03" y2="1105.2" stroke="#222" stroke-width="1.4" />
<line x1="1031.48" y1="1100.2" x2="1031.48" y2="1105.2" stroke="#222" stroke-width="1.4" />
<line x1="1043.86" y1="1100.2" x2="1043.86" y2="1105.2" stroke="#222" stroke-width="1.4" />
<line x1="1053.47" y1="1100.2" x2="1053.47" y2="1106.7" stroke="#000" stroke-width="2" />
<line x1="1061.31" y1="1100.2" x2="1061.31" y2="1105.2" stroke="#222" stroke-width="1.4" />
<line x1="1067.95" y1="1100.2" x2="1067.95" y2="1105.2" stroke="#222" stroke-width="1.4" />
<line x1="1073.7" y1="1100.2" x2="1073.7" y2="1105.2" stroke="#222" stroke-width="1.4" />
<line x1="1078.77" y1="1100.2" x2="1078.77" y2="1105.2" stroke="#222" stroke-width="1.4" />
<text transform="translate(992.1 1142.5)" font-size="13.2" fill="#1a1a1a" >10</text>
<text transform="translate(1008.6 1131)" font-size="12.6" fill="#1a1a1a" >2</text>
<line x1="1084.2" y1="1100.2" x2="1084.2" y2="1110.6" stroke="#000" stroke-width="2.2" />
<line x1="1114.09" y1="1100.2" x2="1114.09" y2="1105.2" stroke="#222" stroke-width="1.4" />
<line x1="1131.58" y1="1100.2" x2="1131.58" y2="1105.2" stroke="#222" stroke-width="1.4" />
<line x1="1143.98" y1="1100.2" x2="1143.98" y2="1105.2" stroke="#222" stroke-width="1.4" />
<line x1="1153.61" y1="1100.2" x2="1153.61" y2="1106.7" stroke="#000" stroke-width="2" />
<line x1="1161.47" y1="1100.2" x2="1161.47" y2="1105.2" stroke="#222" stroke-width="1.4" />
<line x1="1168.12" y1="1100.2" x2="1168.12" y2="1105.2" stroke="#222" stroke-width="1.4" />
<line x1="1173.88" y1="1100.2" x2="1173.88" y2="1105.2" stroke="#222" stroke-width="1.4" />
<line x1="1178.96" y1="1100.2" x2="1178.96" y2="1105.2" stroke="#222" stroke-width="1.4" />
<text transform="translate(1078.1 1142.5)" font-size="13.2" fill="#1a1a1a" >10</text>
<text transform="translate(1094.6 1131)" font-size="12.6" fill="#1a1a1a" >3</text>
<line x1="1183.5" y1="1100.2" x2="1183.5" y2="1110.6" stroke="#000" stroke-width="2.2" />
<line x1="1213.78" y1="1100.2" x2="1213.78" y2="1105.2" stroke="#222" stroke-width="1.4" />
<line x1="1231.5" y1="1100.2" x2="1231.5" y2="1105.2" stroke="#222" stroke-width="1.4" />
<line x1="1244.07" y1="1100.2" x2="1244.07" y2="1105.2" stroke="#222" stroke-width="1.4" />
<line x1="1253.82" y1="1100.2" x2="1253.82" y2="1106.7" stroke="#000" stroke-width="2" />
<line x1="1261.78" y1="1100.2" x2="1261.78" y2="1105.2" stroke="#222" stroke-width="1.4" />
<line x1="1268.52" y1="1100.2" x2="1268.52" y2="1105.2" stroke="#222" stroke-width="1.4" />
<line x1="1274.35" y1="1100.2" x2="1274.35" y2="1105.2" stroke="#222" stroke-width="1.4" />
<line x1="1279.5" y1="1100.2" x2="1279.5" y2="1105.2" stroke="#222" stroke-width="1.4" />
<text transform="translate(1177.4 1142.5)" font-size="13.2" fill="#1a1a1a" >10</text>
<text transform="translate(1193.9 1131)" font-size="12.6" fill="#1a1a1a" >4</text>
<line x1="1283.8" y1="1100.2" x2="1283.8" y2="1110.6" stroke="#000" stroke-width="2.2" />
<line x1="1314.08" y1="1100.2" x2="1314.08" y2="1105.2" stroke="#222" stroke-width="1.4" />
<line x1="1331.8" y1="1100.2" x2="1331.8" y2="1105.2" stroke="#222" stroke-width="1.4" />
<text transform="translate(1277.7 1142.5)" font-size="13.2" fill="#1a1a1a" >10</text>
<text transform="translate(1294.2 1131)" font-size="12.6" fill="#1a1a1a" >5</text>
<text transform="translate(1161.5 1173.1)" font-size="16.85" text-anchor="middle" fill="#1a1a1a"  stroke="#1a1a1a" stroke-width="0.25" stroke-linejoin="round">Comp-FL7-A :: PE-A</text>
<line x1="1161.6" y1="901.9" x2="1316.2" y2="901.9" stroke="#111" stroke-width="2" />
<line x1="1161.6" y1="894.1" x2="1161.6" y2="909.7" stroke="#111" stroke-width="1.9" />
<line x1="1316.2" y1="894.1" x2="1316.2" y2="909.7" stroke="#111" stroke-width="1.9" />
<text transform="translate(1237.4 854)" font-size="16.9" text-anchor="middle" fill="#1a1a1a"  stroke="#1a1a1a" stroke-width="0.25" stroke-linejoin="round">CD86+</text>
<text transform="translate(1237.4 878.8)" font-size="16.9" text-anchor="middle" fill="#1a1a1a"  stroke="#1a1a1a" stroke-width="0.25" stroke-linejoin="round">37.7%</text>
<text transform="translate(1157 717) scale(1 0.970)" font-size="48.8" text-anchor="middle" >LPS+si-NC</text>
<path d="M1410.5,1099.6 L1464,1099.6 L1468,1099.6 L1475,1098.8 L1480,1098.1 L1484.76,1095.72 L1490.71,1095.12 L1495.47,1092.74 L1499.04,1090.36 L1502.61,1084.41 L1506.17,1078.47 L1510.93,1073.71 L1514.5,1065.38 L1516.88,1055.86 L1519.26,1046.34 L1521.64,1033.25 L1523.43,1020.17 L1525.81,1007.08 L1528.19,995.18 L1530.57,983.28 L1532.94,973.77 L1535.32,963.06 L1537.11,951.16 L1538.89,939.26 L1540.68,929.74 L1542.46,920.31 L1544.84,913.17 L1547.22,910.2 L1549.01,906.03 L1551.39,899.49 L1554.36,894.73 L1556.15,885.21 L1557.57,873.31 L1559.12,866.77 L1560.67,873.31 L1562.09,881.64 L1563.28,885.21 L1564.71,881.05 L1565.9,879.86 L1568.04,882.83 L1571.02,887 L1572.21,899.49 L1573.99,911.39 L1576.37,920.9 L1577.56,935.18 L1579.35,949.46 L1581.13,953.62 L1582.91,958.98 L1584.46,971.39 L1585.89,983.28 L1587.67,995.18 L1589.46,1007.08 L1591.24,1018.98 L1593.62,1028.49 L1595.41,1036.82 L1597.19,1048.72 L1598.98,1058.24 L1601.36,1066.57 L1603.74,1073.71 L1606.12,1080.84 L1608.49,1086.79 L1610.87,1091.55 L1614.44,1094.53 L1619.2,1096.31 L1623.96,1098.1 L1629.91,1099.05 L1633.91,1099.6 L1766.5,1099.6 Z" fill="#ffb3d9" stroke="none"/>
<line x1="1410" y1="743.3" x2="1767.5" y2="743.3" stroke="#a9b2b4" stroke-width="1.9" />
<line x1="1766.5" y1="742.9" x2="1766.5" y2="1100.2" stroke="#a9b2b4" stroke-width="2" />
<line x1="1410" y1="1101.4" x2="1766.5" y2="1101.4" stroke="#9aa0a2" stroke-width="2.4" />
<line x1="1410" y1="742.4" x2="1410" y2="1101.2" stroke="#111" stroke-width="2" />
<path d="M1410.5,1099.6 L1464,1099.6 L1468,1099.6 L1475,1098.8 L1480,1098.1 L1484.76,1095.72 L1490.71,1095.12 L1495.47,1092.74 L1499.04,1090.36 L1502.61,1084.41 L1506.17,1078.47 L1510.93,1073.71 L1514.5,1065.38 L1516.88,1055.86 L1519.26,1046.34 L1521.64,1033.25 L1523.43,1020.17 L1525.81,1007.08 L1528.19,995.18 L1530.57,983.28 L1532.94,973.77 L1535.32,963.06 L1537.11,951.16 L1538.89,939.26 L1540.68,929.74 L1542.46,920.31 L1544.84,913.17 L1547.22,910.2 L1549.01,906.03 L1551.39,899.49 L1554.36,894.73 L1556.15,885.21 L1557.57,873.31 L1559.12,866.77 L1560.67,873.31 L1562.09,881.64 L1563.28,885.21 L1564.71,881.05 L1565.9,879.86 L1568.04,882.83 L1571.02,887 L1572.21,899.49 L1573.99,911.39 L1576.37,920.9 L1577.56,935.18 L1579.35,949.46 L1581.13,953.62 L1582.91,958.98 L1584.46,971.39 L1585.89,983.28 L1587.67,995.18 L1589.46,1007.08 L1591.24,1018.98 L1593.62,1028.49 L1595.41,1036.82 L1597.19,1048.72 L1598.98,1058.24 L1601.36,1066.57 L1603.74,1073.71 L1606.12,1080.84 L1608.49,1086.79 L1610.87,1091.55 L1614.44,1094.53 L1619.2,1096.31 L1623.96,1098.1 L1629.91,1099.05 L1633.91,1099.6 L1766.5,1099.6" fill="none" stroke="#ff1010" stroke-width="2.2" stroke-linejoin="round"/>
<line x1="1399.5" y1="1100.2" x2="1410" y2="1100.2" stroke="#000" stroke-width="2.2" />
<line x1="1405.4" y1="1074.75" x2="1410" y2="1074.75" stroke="#444" stroke-width="1.4" />
<line x1="1405.4" y1="1049.3" x2="1410" y2="1049.3" stroke="#444" stroke-width="1.4" />
<line x1="1405.4" y1="1023.85" x2="1410" y2="1023.85" stroke="#444" stroke-width="1.4" />
<line x1="1399.5" y1="998.4" x2="1410" y2="998.4" stroke="#000" stroke-width="2.2" />
<line x1="1405.4" y1="972.95" x2="1410" y2="972.95" stroke="#444" stroke-width="1.4" />
<line x1="1405.4" y1="947.5" x2="1410" y2="947.5" stroke="#444" stroke-width="1.4" />
<line x1="1405.4" y1="922.05" x2="1410" y2="922.05" stroke="#444" stroke-width="1.4" />
<line x1="1399.5" y1="896.6" x2="1410" y2="896.6" stroke="#000" stroke-width="2.2" />
<line x1="1405.4" y1="871.15" x2="1410" y2="871.15" stroke="#444" stroke-width="1.4" />
<line x1="1405.4" y1="845.7" x2="1410" y2="845.7" stroke="#444" stroke-width="1.4" />
<line x1="1405.4" y1="820.25" x2="1410" y2="820.25" stroke="#444" stroke-width="1.4" />
<line x1="1399.5" y1="794.8" x2="1410" y2="794.8" stroke="#000" stroke-width="2.2" />
<line x1="1405.4" y1="769.35" x2="1410" y2="769.35" stroke="#444" stroke-width="1.4" />
<line x1="1405.4" y1="743.9" x2="1410" y2="743.9" stroke="#444" stroke-width="1.4" />
<text transform="translate(1392.8 1100.4)" font-size="13.3" text-anchor="end" fill="#1a1a1a" letter-spacing="0.9" stroke="#1a1a1a" stroke-width="0.25" stroke-linejoin="round">0</text>
<text transform="translate(1392.8 1006.7)" font-size="13.3" text-anchor="end" fill="#1a1a1a" letter-spacing="0.9" stroke="#1a1a1a" stroke-width="0.25" stroke-linejoin="round">200</text>
<text transform="translate(1392.8 904.9)" font-size="13.3" text-anchor="end" fill="#1a1a1a" letter-spacing="0.9" stroke="#1a1a1a" stroke-width="0.25" stroke-linejoin="round">400</text>
<text transform="translate(1392.8 803.1)" font-size="13.3" text-anchor="end" fill="#1a1a1a" letter-spacing="0.9" stroke="#1a1a1a" stroke-width="0.25" stroke-linejoin="round">600</text>
<text transform="translate(1358.4 921.85) rotate(-90)" font-size="16.9" text-anchor="middle" fill="#1a1a1a"  stroke="#1a1a1a" stroke-width="0.3" stroke-linejoin="round">Count</text>
<line x1="1410.6" y1="1100.2" x2="1410.6" y2="1110.6" stroke="#000" stroke-width="2.2" />
<line x1="1439.03" y1="1100.2" x2="1439.03" y2="1105.2" stroke="#222" stroke-width="1.4" />
<line x1="1456.48" y1="1100.2" x2="1456.48" y2="1105.2" stroke="#222" stroke-width="1.4" />
<line x1="1468.86" y1="1100.2" x2="1468.86" y2="1105.2" stroke="#222" stroke-width="1.4" />
<line x1="1478.47" y1="1100.2" x2="1478.47" y2="1106.7" stroke="#000" stroke-width="2" />
<line x1="1486.31" y1="1100.2" x2="1486.31" y2="1105.2" stroke="#222" stroke-width="1.4" />
<line x1="1492.95" y1="1100.2" x2="1492.95" y2="1105.2" stroke="#222" stroke-width="1.4" />
<line x1="1498.7" y1="1100.2" x2="1498.7" y2="1105.2" stroke="#222" stroke-width="1.4" />
<line x1="1503.77" y1="1100.2" x2="1503.77" y2="1105.2" stroke="#222" stroke-width="1.4" />
<text transform="translate(1417.1 1142.5)" font-size="13.2" fill="#1a1a1a" >10</text>
<text transform="translate(1433.6 1131)" font-size="12.6" fill="#1a1a1a" >2</text>
<line x1="1509.2" y1="1100.2" x2="1509.2" y2="1110.6" stroke="#000" stroke-width="2.2" />
<line x1="1539.09" y1="1100.2" x2="1539.09" y2="1105.2" stroke="#222" stroke-width="1.4" />
<line x1="1556.58" y1="1100.2" x2="1556.58" y2="1105.2" stroke="#222" stroke-width="1.4" />
<line x1="1568.98" y1="1100.2" x2="1568.98" y2="1105.2" stroke="#222" stroke-width="1.4" />
<line x1="1578.61" y1="1100.2" x2="1578.61" y2="1106.7" stroke="#000" stroke-width="2" />
<line x1="1586.47" y1="1100.2" x2="1586.47" y2="1105.2" stroke="#222" stroke-width="1.4" />
<line x1="1593.12" y1="1100.2" x2="1593.12" y2="1105.2" stroke="#222" stroke-width="1.4" />
<line x1="1598.88" y1="1100.2" x2="1598.88" y2="1105.2" stroke="#222" stroke-width="1.4" />
<line x1="1603.96" y1="1100.2" x2="1603.96" y2="1105.2" stroke="#222" stroke-width="1.4" />
<text transform="translate(1503.1 1142.5)" font-size="13.2" fill="#1a1a1a" >10</text>
<text transform="translate(1519.6 1131)" font-size="12.6" fill="#1a1a1a" >3</text>
<line x1="1608.5" y1="1100.2" x2="1608.5" y2="1110.6" stroke="#000" stroke-width="2.2" />
<line x1="1638.78" y1="1100.2" x2="1638.78" y2="1105.2" stroke="#222" stroke-width="1.4" />
<line x1="1656.5" y1="1100.2" x2="1656.5" y2="1105.2" stroke="#222" stroke-width="1.4" />
<line x1="1669.07" y1="1100.2" x2="1669.07" y2="1105.2" stroke="#222" stroke-width="1.4" />
<line x1="1678.82" y1="1100.2" x2="1678.82" y2="1106.7" stroke="#000" stroke-width="2" />
<line x1="1686.78" y1="1100.2" x2="1686.78" y2="1105.2" stroke="#222" stroke-width="1.4" />
<line x1="1693.52" y1="1100.2" x2="1693.52" y2="1105.2" stroke="#222" stroke-width="1.4" />
<line x1="1699.35" y1="1100.2" x2="1699.35" y2="1105.2" stroke="#222" stroke-width="1.4" />
<line x1="1704.5" y1="1100.2" x2="1704.5" y2="1105.2" stroke="#222" stroke-width="1.4" />
<text transform="translate(1602.4 1142.5)" font-size="13.2" fill="#1a1a1a" >10</text>
<text transform="translate(1618.9 1131)" font-size="12.6" fill="#1a1a1a" >4</text>
<line x1="1708.8" y1="1100.2" x2="1708.8" y2="1110.6" stroke="#000" stroke-width="2.2" />
<line x1="1739.08" y1="1100.2" x2="1739.08" y2="1105.2" stroke="#222" stroke-width="1.4" />
<line x1="1756.8" y1="1100.2" x2="1756.8" y2="1105.2" stroke="#222" stroke-width="1.4" />
<text transform="translate(1702.7 1142.5)" font-size="13.2" fill="#1a1a1a" >10</text>
<text transform="translate(1719.2 1131)" font-size="12.6" fill="#1a1a1a" >5</text>
<text transform="translate(1586.5 1173.1)" font-size="16.85" text-anchor="middle" fill="#1a1a1a"  stroke="#1a1a1a" stroke-width="0.25" stroke-linejoin="round">Comp-FL7-A :: PE-A</text>
<line x1="1586.6" y1="901.9" x2="1741.2" y2="901.9" stroke="#111" stroke-width="2" />
<line x1="1586.6" y1="894.1" x2="1586.6" y2="909.7" stroke="#111" stroke-width="1.9" />
<line x1="1741.2" y1="894.1" x2="1741.2" y2="909.7" stroke="#111" stroke-width="1.9" />
<text transform="translate(1662.4 854)" font-size="16.9" text-anchor="middle" fill="#1a1a1a"  stroke="#1a1a1a" stroke-width="0.25" stroke-linejoin="round">CD86+</text>
<text transform="translate(1662.4 878.8)" font-size="16.9" text-anchor="middle" fill="#1a1a1a"  stroke="#1a1a1a" stroke-width="0.25" stroke-linejoin="round">9.46%</text>
<text transform="translate(1590 717) scale(1 0.970)" font-size="48.8" text-anchor="middle" >LPS+si-DANCR</text>
<path d="M131.5,1677.6 L168.71,1677.6 L172.71,1677.37 L178.39,1675.95 L185.49,1673.83 L192.58,1670.28 L198.26,1666.02 L203.94,1660.34 L208.2,1652.53 L211.04,1642.6 L213.88,1631.24 L216.71,1619.89 L218.84,1607.11 L220.97,1592.92 L223.1,1578.72 L225.23,1563.11 L227.36,1547.49 L229.49,1533.3 L232.33,1519.11 L234.46,1503.49 L236.59,1479.36 L238.72,1468.01 L240.84,1453.81 L242.97,1436.78 L245.1,1424 L247.23,1414.07 L248.65,1407.68 L250.35,1404.41 L251.92,1408.39 L252.91,1409.81 L254.33,1407.68 L255.75,1414.07 L257.17,1424 L258.59,1436.78 L260.01,1444.58 L262.14,1449.55 L263.56,1459.49 L264.98,1472.26 L267.1,1490.72 L269.23,1507.75 L270.65,1529.04 L272.78,1550.33 L274.91,1565.95 L277.75,1578.72 L280.59,1592.92 L282.72,1604.27 L284.85,1615.63 L286.98,1625.56 L289.82,1635.5 L293.36,1646.86 L296.2,1656.79 L299.04,1663.89 L301.88,1668.15 L306.14,1670.28 L310.4,1671.7 L314.66,1674.54 L320.33,1676.66 L327.43,1677.52 L331.43,1677.6 L487.7,1677.6 Z" fill="#ffb3d9" stroke="none"/>
<line x1="131" y1="1322.4" x2="488.7" y2="1322.4" stroke="#a9b2b4" stroke-width="1.9" />
<line x1="487.7" y1="1322" x2="487.7" y2="1678.2" stroke="#a9b2b4" stroke-width="2" />
<line x1="131" y1="1679.4" x2="487.7" y2="1679.4" stroke="#c4c9ca" stroke-width="2.4" />
<line x1="131" y1="1321.5" x2="131" y2="1679.2" stroke="#666" stroke-width="1.5" />
<path d="M131.5,1677.6 L168.71,1677.6 L172.71,1677.37 L178.39,1675.95 L185.49,1673.83 L192.58,1670.28 L198.26,1666.02 L203.94,1660.34 L208.2,1652.53 L211.04,1642.6 L213.88,1631.24 L216.71,1619.89 L218.84,1607.11 L220.97,1592.92 L223.1,1578.72 L225.23,1563.11 L227.36,1547.49 L229.49,1533.3 L232.33,1519.11 L234.46,1503.49 L236.59,1479.36 L238.72,1468.01 L240.84,1453.81 L242.97,1436.78 L245.1,1424 L247.23,1414.07 L248.65,1407.68 L250.35,1404.41 L251.92,1408.39 L252.91,1409.81 L254.33,1407.68 L255.75,1414.07 L257.17,1424 L258.59,1436.78 L260.01,1444.58 L262.14,1449.55 L263.56,1459.49 L264.98,1472.26 L267.1,1490.72 L269.23,1507.75 L270.65,1529.04 L272.78,1550.33 L274.91,1565.95 L277.75,1578.72 L280.59,1592.92 L282.72,1604.27 L284.85,1615.63 L286.98,1625.56 L289.82,1635.5 L293.36,1646.86 L296.2,1656.79 L299.04,1663.89 L301.88,1668.15 L306.14,1670.28 L310.4,1671.7 L314.66,1674.54 L320.33,1676.66 L327.43,1677.52 L331.43,1677.6 L487.7,1677.6" fill="none" stroke="#ff1010" stroke-width="2.2" stroke-linejoin="round"/>
<line x1="120.5" y1="1678.2" x2="131" y2="1678.2" stroke="#000" stroke-width="2.2" />
<line x1="126.4" y1="1652.7" x2="131" y2="1652.7" stroke="#444" stroke-width="1.4" />
<line x1="126.4" y1="1627.2" x2="131" y2="1627.2" stroke="#444" stroke-width="1.4" />
<line x1="126.4" y1="1601.7" x2="131" y2="1601.7" stroke="#444" stroke-width="1.4" />
<line x1="120.5" y1="1576.2" x2="131" y2="1576.2" stroke="#000" stroke-width="2.2" />
<line x1="126.4" y1="1550.7" x2="131" y2="1550.7" stroke="#444" stroke-width="1.4" />
<line x1="126.4" y1="1525.2" x2="131" y2="1525.2" stroke="#444" stroke-width="1.4" />
<line x1="126.4" y1="1499.7" x2="131" y2="1499.7" stroke="#444" stroke-width="1.4" />
<line x1="120.5" y1="1474.2" x2="131" y2="1474.2" stroke="#000" stroke-width="2.2" />
<line x1="126.4" y1="1448.7" x2="131" y2="1448.7" stroke="#444" stroke-width="1.4" />
<line x1="126.4" y1="1423.2" x2="131" y2="1423.2" stroke="#444" stroke-width="1.4" />
<line x1="126.4" y1="1397.7" x2="131" y2="1397.7" stroke="#444" stroke-width="1.4" />
<line x1="120.5" y1="1372.2" x2="131" y2="1372.2" stroke="#000" stroke-width="2.2" />
<line x1="126.4" y1="1346.7" x2="131" y2="1346.7" stroke="#444" stroke-width="1.4" />
<line x1="126.4" y1="1321.2" x2="131" y2="1321.2" stroke="#444" stroke-width="1.4" />
<text transform="translate(113.8 1678.4)" font-size="13.3" text-anchor="end" fill="#1a1a1a" letter-spacing="0.9" stroke="#1a1a1a" stroke-width="0.25" stroke-linejoin="round">0</text>
<text transform="translate(113.8 1584.5)" font-size="13.3" text-anchor="end" fill="#1a1a1a" letter-spacing="0.9" stroke="#1a1a1a" stroke-width="0.25" stroke-linejoin="round">200</text>
<text transform="translate(113.8 1482.5)" font-size="13.3" text-anchor="end" fill="#1a1a1a" letter-spacing="0.9" stroke="#1a1a1a" stroke-width="0.25" stroke-linejoin="round">400</text>
<text transform="translate(113.8 1380.5)" font-size="13.3" text-anchor="end" fill="#1a1a1a" letter-spacing="0.9" stroke="#1a1a1a" stroke-width="0.25" stroke-linejoin="round">600</text>
<text transform="translate(79.4 1500.4) rotate(-90)" font-size="16.9" text-anchor="middle" fill="#1a1a1a"  stroke="#1a1a1a" stroke-width="0.3" stroke-linejoin="round">Count</text>
<line x1="131.6" y1="1680.2" x2="131.6" y2="1689.6" stroke="#000" stroke-width="2.2" />
<line x1="160.03" y1="1680.2" x2="160.03" y2="1684.5" stroke="#222" stroke-width="1.4" />
<line x1="177.48" y1="1680.2" x2="177.48" y2="1684.5" stroke="#222" stroke-width="1.4" />
<line x1="189.86" y1="1680.2" x2="189.86" y2="1684.5" stroke="#222" stroke-width="1.4" />
<line x1="199.47" y1="1680.2" x2="199.47" y2="1685.8" stroke="#000" stroke-width="2" />
<line x1="207.31" y1="1680.2" x2="207.31" y2="1684.5" stroke="#222" stroke-width="1.4" />
<line x1="213.95" y1="1680.2" x2="213.95" y2="1684.5" stroke="#222" stroke-width="1.4" />
<line x1="219.7" y1="1680.2" x2="219.7" y2="1684.5" stroke="#222" stroke-width="1.4" />
<line x1="224.77" y1="1680.2" x2="224.77" y2="1684.5" stroke="#222" stroke-width="1.4" />
<text transform="translate(138.1 1720.5)" font-size="13.2" fill="#1a1a1a" >10</text>
<text transform="translate(154.6 1709)" font-size="12.6" fill="#1a1a1a" >2</text>
<line x1="230" y1="1680.2" x2="230" y2="1689.6" stroke="#000" stroke-width="2.2" />
<line x1="259.89" y1="1680.2" x2="259.89" y2="1684.5" stroke="#222" stroke-width="1.4" />
<line x1="277.38" y1="1680.2" x2="277.38" y2="1684.5" stroke="#222" stroke-width="1.4" />
<line x1="289.78" y1="1680.2" x2="289.78" y2="1684.5" stroke="#222" stroke-width="1.4" />
<line x1="299.41" y1="1680.2" x2="299.41" y2="1685.8" stroke="#000" stroke-width="2" />
<line x1="307.27" y1="1680.2" x2="307.27" y2="1684.5" stroke="#222" stroke-width="1.4" />
<line x1="313.92" y1="1680.2" x2="313.92" y2="1684.5" stroke="#222" stroke-width="1.4" />
<line x1="319.68" y1="1680.2" x2="319.68" y2="1684.5" stroke="#222" stroke-width="1.4" />
<line x1="324.76" y1="1680.2" x2="324.76" y2="1684.5" stroke="#222" stroke-width="1.4" />
<text transform="translate(223.9 1720.5)" font-size="13.2" fill="#1a1a1a" >10</text>
<text transform="translate(240.4 1709)" font-size="12.6" fill="#1a1a1a" >3</text>
<line x1="328.8" y1="1680.2" x2="328.8" y2="1689.6" stroke="#000" stroke-width="2.2" />
<line x1="359.08" y1="1680.2" x2="359.08" y2="1684.5" stroke="#222" stroke-width="1.4" />
<line x1="376.8" y1="1680.2" x2="376.8" y2="1684.5" stroke="#222" stroke-width="1.4" />
<line x1="389.37" y1="1680.2" x2="389.37" y2="1684.5" stroke="#222" stroke-width="1.4" />
<line x1="399.12" y1="1680.2" x2="399.12" y2="1685.8" stroke="#000" stroke-width="2" />
<line x1="407.08" y1="1680.2" x2="407.08" y2="1684.5" stroke="#222" stroke-width="1.4" />
<line x1="413.82" y1="1680.2" x2="413.82" y2="1684.5" stroke="#222" stroke-width="1.4" />
<line x1="419.65" y1="1680.2" x2="419.65" y2="1684.5" stroke="#222" stroke-width="1.4" />
<line x1="424.8" y1="1680.2" x2="424.8" y2="1684.5" stroke="#222" stroke-width="1.4" />
<text transform="translate(322.7 1720.5)" font-size="13.2" fill="#1a1a1a" >10</text>
<text transform="translate(339.2 1709)" font-size="12.6" fill="#1a1a1a" >4</text>
<line x1="430" y1="1680.2" x2="430" y2="1689.6" stroke="#000" stroke-width="2.2" />
<line x1="460.28" y1="1680.2" x2="460.28" y2="1684.5" stroke="#222" stroke-width="1.4" />
<line x1="478" y1="1680.2" x2="478" y2="1684.5" stroke="#222" stroke-width="1.4" />
<text transform="translate(423.9 1720.5)" font-size="13.2" fill="#1a1a1a" >10</text>
<text transform="translate(440.4 1709)" font-size="12.6" fill="#1a1a1a" >5</text>
<text transform="translate(307.8 1751.1)" font-size="16.85" text-anchor="middle" fill="#1a1a1a"  stroke="#1a1a1a" stroke-width="0.25" stroke-linejoin="round">Comp-FL11-A :: APC-A</text>
<line x1="298" y1="1496.5" x2="466.4" y2="1496.5" stroke="#111" stroke-width="2" />
<line x1="298" y1="1488.7" x2="298" y2="1504.3" stroke="#111" stroke-width="1.9" />
<line x1="466.4" y1="1488.7" x2="466.4" y2="1504.3" stroke="#111" stroke-width="1.9" />
<text transform="translate(380.7 1448.6)" font-size="16.9" text-anchor="middle" fill="#1a1a1a"  stroke="#1a1a1a" stroke-width="0.25" stroke-linejoin="round">CD206+</text>
<text transform="translate(380.7 1473.4)" font-size="16.9" text-anchor="middle" fill="#1a1a1a"  stroke="#1a1a1a" stroke-width="0.25" stroke-linejoin="round">1.56%</text>
<text transform="translate(315.9 1288) scale(1 0.970)" font-size="48.8" text-anchor="middle" >Control</text>
<path d="M556.8,1677.6 L556.81,1662.47 L557.81,1669.57 L559.23,1675.95 L561.36,1677.23 L571.29,1676.95 L574.13,1675.24 L581.23,1674.54 L586.91,1672.41 L592.58,1670.99 L598.26,1668.86 L602.52,1665.31 L606.78,1661.76 L611.04,1657.5 L613.88,1651.11 L617.42,1644.02 L620.97,1635.5 L624.52,1625.56 L628.07,1614.21 L630.91,1607.11 L633.75,1600.01 L635.88,1585.82 L638.01,1571.63 L640.13,1558.85 L642.26,1546.08 L645.1,1537.56 L647.23,1527.62 L649.36,1516.27 L650.78,1510.59 L652.91,1497.81 L654.76,1486.46 L656.46,1485.75 L658.16,1485.04 L660.01,1476.52 L661.43,1470.84 L663.56,1470.13 L665.68,1469.71 L667.81,1469.43 L669.94,1472.26 L672.07,1480.78 L674.2,1490.72 L676.33,1492.14 L678.46,1502.07 L680.31,1509.17 L682.72,1513.43 L684.14,1519.11 L686.27,1533.3 L688.4,1547.49 L690.53,1561.69 L692.65,1575.88 L694.78,1585.82 L697.62,1598.59 L699.75,1609.95 L702.59,1619.89 L705.43,1629.82 L708.27,1639.76 L711.82,1649.69 L714.66,1656.79 L717.49,1663.89 L721.75,1667.44 L726.01,1670.99 L731.69,1673.12 L737.37,1674.96 L743.04,1676.38 L750,1677.52 L754,1677.6 L913,1677.6 Z" fill="#ffb3d9" stroke="none"/>
<line x1="556.3" y1="1322.4" x2="914" y2="1322.4" stroke="#a9b2b4" stroke-width="1.9" />
<line x1="913" y1="1322" x2="913" y2="1678.2" stroke="#a9b2b4" stroke-width="2" />
<line x1="556.3" y1="1679.4" x2="913" y2="1679.4" stroke="#c4c9ca" stroke-width="2.4" />
<line x1="556.3" y1="1321.5" x2="556.3" y2="1679.2" stroke="#666" stroke-width="1.5" />
<path d="M556.8,1677.6 L556.81,1662.47 L557.81,1669.57 L559.23,1675.95 L561.36,1677.23 L571.29,1676.95 L574.13,1675.24 L581.23,1674.54 L586.91,1672.41 L592.58,1670.99 L598.26,1668.86 L602.52,1665.31 L606.78,1661.76 L611.04,1657.5 L613.88,1651.11 L617.42,1644.02 L620.97,1635.5 L624.52,1625.56 L628.07,1614.21 L630.91,1607.11 L633.75,1600.01 L635.88,1585.82 L638.01,1571.63 L640.13,1558.85 L642.26,1546.08 L645.1,1537.56 L647.23,1527.62 L649.36,1516.27 L650.78,1510.59 L652.91,1497.81 L654.76,1486.46 L656.46,1485.75 L658.16,1485.04 L660.01,1476.52 L661.43,1470.84 L663.56,1470.13 L665.68,1469.71 L667.81,1469.43 L669.94,1472.26 L672.07,1480.78 L674.2,1490.72 L676.33,1492.14 L678.46,1502.07 L680.31,1509.17 L682.72,1513.43 L684.14,1519.11 L686.27,1533.3 L688.4,1547.49 L690.53,1561.69 L692.65,1575.88 L694.78,1585.82 L697.62,1598.59 L699.75,1609.95 L702.59,1619.89 L705.43,1629.82 L708.27,1639.76 L711.82,1649.69 L714.66,1656.79 L717.49,1663.89 L721.75,1667.44 L726.01,1670.99 L731.69,1673.12 L737.37,1674.96 L743.04,1676.38 L750,1677.52 L754,1677.6 L913,1677.6" fill="none" stroke="#ff1010" stroke-width="2.2" stroke-linejoin="round"/>
<line x1="545.8" y1="1678.2" x2="556.3" y2="1678.2" stroke="#000" stroke-width="2.2" />
<line x1="551.7" y1="1652.7" x2="556.3" y2="1652.7" stroke="#444" stroke-width="1.4" />
<line x1="551.7" y1="1627.2" x2="556.3" y2="1627.2" stroke="#444" stroke-width="1.4" />
<line x1="551.7" y1="1601.7" x2="556.3" y2="1601.7" stroke="#444" stroke-width="1.4" />
<line x1="545.8" y1="1576.2" x2="556.3" y2="1576.2" stroke="#000" stroke-width="2.2" />
<line x1="551.7" y1="1550.7" x2="556.3" y2="1550.7" stroke="#444" stroke-width="1.4" />
<line x1="551.7" y1="1525.2" x2="556.3" y2="1525.2" stroke="#444" stroke-width="1.4" />
<line x1="551.7" y1="1499.7" x2="556.3" y2="1499.7" stroke="#444" stroke-width="1.4" />
<line x1="545.8" y1="1474.2" x2="556.3" y2="1474.2" stroke="#000" stroke-width="2.2" />
<line x1="551.7" y1="1448.7" x2="556.3" y2="1448.7" stroke="#444" stroke-width="1.4" />
<line x1="551.7" y1="1423.2" x2="556.3" y2="1423.2" stroke="#444" stroke-width="1.4" />
<line x1="551.7" y1="1397.7" x2="556.3" y2="1397.7" stroke="#444" stroke-width="1.4" />
<line x1="545.8" y1="1372.2" x2="556.3" y2="1372.2" stroke="#000" stroke-width="2.2" />
<line x1="551.7" y1="1346.7" x2="556.3" y2="1346.7" stroke="#444" stroke-width="1.4" />
<line x1="551.7" y1="1321.2" x2="556.3" y2="1321.2" stroke="#444" stroke-width="1.4" />
<text transform="translate(539.1 1678.4)" font-size="13.3" text-anchor="end" fill="#1a1a1a" letter-spacing="0.9" stroke="#1a1a1a" stroke-width="0.25" stroke-linejoin="round">0</text>
<text transform="translate(539.1 1584.5)" font-size="13.3" text-anchor="end" fill="#1a1a1a" letter-spacing="0.9" stroke="#1a1a1a" stroke-width="0.25" stroke-linejoin="round">200</text>
<text transform="translate(539.1 1482.5)" font-size="13.3" text-anchor="end" fill="#1a1a1a" letter-spacing="0.9" stroke="#1a1a1a" stroke-width="0.25" stroke-linejoin="round">400</text>
<text transform="translate(539.1 1380.5)" font-size="13.3" text-anchor="end" fill="#1a1a1a" letter-spacing="0.9" stroke="#1a1a1a" stroke-width="0.25" stroke-linejoin="round">600</text>
<text transform="translate(504.7 1500.4) rotate(-90)" font-size="16.9" text-anchor="middle" fill="#1a1a1a"  stroke="#1a1a1a" stroke-width="0.3" stroke-linejoin="round">Count</text>
<line x1="556.9" y1="1680.2" x2="556.9" y2="1689.6" stroke="#000" stroke-width="2.2" />
<line x1="585.33" y1="1680.2" x2="585.33" y2="1684.5" stroke="#222" stroke-width="1.4" />
<line x1="602.78" y1="1680.2" x2="602.78" y2="1684.5" stroke="#222" stroke-width="1.4" />
<line x1="615.16" y1="1680.2" x2="615.16" y2="1684.5" stroke="#222" stroke-width="1.4" />
<line x1="624.77" y1="1680.2" x2="624.77" y2="1685.8" stroke="#000" stroke-width="2" />
<line x1="632.61" y1="1680.2" x2="632.61" y2="1684.5" stroke="#222" stroke-width="1.4" />
<line x1="639.25" y1="1680.2" x2="639.25" y2="1684.5" stroke="#222" stroke-width="1.4" />
<line x1="645" y1="1680.2" x2="645" y2="1684.5" stroke="#222" stroke-width="1.4" />
<line x1="650.07" y1="1680.2" x2="650.07" y2="1684.5" stroke="#222" stroke-width="1.4" />
<text transform="translate(563.4 1720.5)" font-size="13.2" fill="#1a1a1a" >10</text>
<text transform="translate(579.9 1709)" font-size="12.6" fill="#1a1a1a" >2</text>
<line x1="655.3" y1="1680.2" x2="655.3" y2="1689.6" stroke="#000" stroke-width="2.2" />
<line x1="685.19" y1="1680.2" x2="685.19" y2="1684.5" stroke="#222" stroke-width="1.4" />
<line x1="702.68" y1="1680.2" x2="702.68" y2="1684.5" stroke="#222" stroke-width="1.4" />
<line x1="715.08" y1="1680.2" x2="715.08" y2="1684.5" stroke="#222" stroke-width="1.4" />
<line x1="724.71" y1="1680.2" x2="724.71" y2="1685.8" stroke="#000" stroke-width="2" />
<line x1="732.57" y1="1680.2" x2="732.57" y2="1684.5" stroke="#222" stroke-width="1.4" />
<line x1="739.22" y1="1680.2" x2="739.22" y2="1684.5" stroke="#222" stroke-width="1.4" />
<line x1="744.98" y1="1680.2" x2="744.98" y2="1684.5" stroke="#222" stroke-width="1.4" />
<line x1="750.06" y1="1680.2" x2="750.06" y2="1684.5" stroke="#222" stroke-width="1.4" />
<text transform="translate(649.2 1720.5)" font-size="13.2" fill="#1a1a1a" >10</text>
<text transform="translate(665.7 1709)" font-size="12.6" fill="#1a1a1a" >3</text>
<line x1="754.1" y1="1680.2" x2="754.1" y2="1689.6" stroke="#000" stroke-width="2.2" />
<line x1="784.38" y1="1680.2" x2="784.38" y2="1684.5" stroke="#222" stroke-width="1.4" />
<line x1="802.1" y1="1680.2" x2="802.1" y2="1684.5" stroke="#222" stroke-width="1.4" />
<line x1="814.67" y1="1680.2" x2="814.67" y2="1684.5" stroke="#222" stroke-width="1.4" />
<line x1="824.42" y1="1680.2" x2="824.42" y2="1685.8" stroke="#000" stroke-width="2" />
<line x1="832.38" y1="1680.2" x2="832.38" y2="1684.5" stroke="#222" stroke-width="1.4" />
<line x1="839.12" y1="1680.2" x2="839.12" y2="1684.5" stroke="#222" stroke-width="1.4" />
<line x1="844.95" y1="1680.2" x2="844.95" y2="1684.5" stroke="#222" stroke-width="1.4" />
<line x1="850.1" y1="1680.2" x2="850.1" y2="1684.5" stroke="#222" stroke-width="1.4" />
<text transform="translate(748 1720.5)" font-size="13.2" fill="#1a1a1a" >10</text>
<text transform="translate(764.5 1709)" font-size="12.6" fill="#1a1a1a" >4</text>
<line x1="855.3" y1="1680.2" x2="855.3" y2="1689.6" stroke="#000" stroke-width="2.2" />
<line x1="885.58" y1="1680.2" x2="885.58" y2="1684.5" stroke="#222" stroke-width="1.4" />
<line x1="903.3" y1="1680.2" x2="903.3" y2="1684.5" stroke="#222" stroke-width="1.4" />
<text transform="translate(849.2 1720.5)" font-size="13.2" fill="#1a1a1a" >10</text>
<text transform="translate(865.7 1709)" font-size="12.6" fill="#1a1a1a" >5</text>
<text transform="translate(733.1 1751.1)" font-size="16.85" text-anchor="middle" fill="#1a1a1a"  stroke="#1a1a1a" stroke-width="0.25" stroke-linejoin="round">Comp-FL11-A :: APC-A</text>
<line x1="723.3" y1="1496.5" x2="891.7" y2="1496.5" stroke="#111" stroke-width="2" />
<line x1="723.3" y1="1488.7" x2="723.3" y2="1504.3" stroke="#111" stroke-width="1.9" />
<line x1="891.7" y1="1488.7" x2="891.7" y2="1504.3" stroke="#111" stroke-width="1.9" />
<text transform="translate(806 1448.6)" font-size="16.9" text-anchor="middle" fill="#1a1a1a"  stroke="#1a1a1a" stroke-width="0.25" stroke-linejoin="round">CD206+</text>
<text transform="translate(806 1473.4)" font-size="16.9" text-anchor="middle" fill="#1a1a1a"  stroke="#1a1a1a" stroke-width="0.25" stroke-linejoin="round">0.97%</text>
<text transform="translate(744 1288) scale(1 0.970)" font-size="48.8" text-anchor="middle" >LPS</text>
<path d="M982.1,1677.6 L981.81,1661.76 L983.23,1669.57 L984.94,1675.95 L987.07,1677.23 L996.29,1676.95 L999.13,1674.96 L1007.65,1674.54 L1011.91,1672.41 L1017.58,1669.57 L1023.26,1666.73 L1027.52,1663.18 L1031.78,1658.92 L1036.04,1655.37 L1039.58,1649.69 L1042.42,1644.02 L1045.97,1636.92 L1048.1,1628.4 L1050.23,1618.47 L1052.36,1609.95 L1054.49,1601.43 L1056.62,1592.92 L1058.75,1582.98 L1060.88,1571.63 L1063.01,1561.69 L1065.13,1557.43 L1067.26,1547.49 L1069.39,1536.14 L1071.52,1524.78 L1073.65,1512.01 L1075.5,1506.33 L1077.48,1504.91 L1079.33,1502.07 L1080.75,1490.72 L1082.17,1477.94 L1083.59,1470.84 L1085.01,1476.52 L1086.43,1480.78 L1088.27,1477.94 L1089.98,1470.84 L1091.68,1464.46 L1093.52,1463.04 L1095.37,1466.59 L1097.07,1476.52 L1098.49,1480.78 L1100.62,1477.94 L1102.04,1479.36 L1103.46,1485.04 L1105.59,1493.56 L1107.72,1504.91 L1109.85,1519.11 L1111.98,1536.14 L1114.11,1553.17 L1116.23,1568.79 L1118.36,1578.72 L1121.2,1588.66 L1123.33,1601.43 L1125.46,1611.37 L1127.59,1621.31 L1130.43,1632.66 L1133.27,1642.6 L1136.11,1651.11 L1139.66,1658.21 L1143.2,1665.31 L1146.75,1668.86 L1152.43,1670.99 L1158.11,1673.12 L1165.21,1675.24 L1170.88,1676.38 L1175,1677.37 L1179,1677.6 L1338.3,1677.6 Z" fill="#ffb3d9" stroke="none"/>
<line x1="981.6" y1="1322.4" x2="1339.3" y2="1322.4" stroke="#a9b2b4" stroke-width="1.9" />
<line x1="1338.3" y1="1322" x2="1338.3" y2="1678.2" stroke="#a9b2b4" stroke-width="2" />
<line x1="981.6" y1="1679.4" x2="1338.3" y2="1679.4" stroke="#c4c9ca" stroke-width="2.4" />
<line x1="981.6" y1="1321.5" x2="981.6" y2="1679.2" stroke="#666" stroke-width="1.5" />
<path d="M982.1,1677.6 L981.81,1661.76 L983.23,1669.57 L984.94,1675.95 L987.07,1677.23 L996.29,1676.95 L999.13,1674.96 L1007.65,1674.54 L1011.91,1672.41 L1017.58,1669.57 L1023.26,1666.73 L1027.52,1663.18 L1031.78,1658.92 L1036.04,1655.37 L1039.58,1649.69 L1042.42,1644.02 L1045.97,1636.92 L1048.1,1628.4 L1050.23,1618.47 L1052.36,1609.95 L1054.49,1601.43 L1056.62,1592.92 L1058.75,1582.98 L1060.88,1571.63 L1063.01,1561.69 L1065.13,1557.43 L1067.26,1547.49 L1069.39,1536.14 L1071.52,1524.78 L1073.65,1512.01 L1075.5,1506.33 L1077.48,1504.91 L1079.33,1502.07 L1080.75,1490.72 L1082.17,1477.94 L1083.59,1470.84 L1085.01,1476.52 L1086.43,1480.78 L1088.27,1477.94 L1089.98,1470.84 L1091.68,1464.46 L1093.52,1463.04 L1095.37,1466.59 L1097.07,1476.52 L1098.49,1480.78 L1100.62,1477.94 L1102.04,1479.36 L1103.46,1485.04 L1105.59,1493.56 L1107.72,1504.91 L1109.85,1519.11 L1111.98,1536.14 L1114.11,1553.17 L1116.23,1568.79 L1118.36,1578.72 L1121.2,1588.66 L1123.33,1601.43 L1125.46,1611.37 L1127.59,1621.31 L1130.43,1632.66 L1133.27,1642.6 L1136.11,1651.11 L1139.66,1658.21 L1143.2,1665.31 L1146.75,1668.86 L1152.43,1670.99 L1158.11,1673.12 L1165.21,1675.24 L1170.88,1676.38 L1175,1677.37 L1179,1677.6 L1338.3,1677.6" fill="none" stroke="#ff1010" stroke-width="2.2" stroke-linejoin="round"/>
<line x1="971.1" y1="1678.2" x2="981.6" y2="1678.2" stroke="#000" stroke-width="2.2" />
<line x1="977" y1="1652.7" x2="981.6" y2="1652.7" stroke="#444" stroke-width="1.4" />
<line x1="977" y1="1627.2" x2="981.6" y2="1627.2" stroke="#444" stroke-width="1.4" />
<line x1="977" y1="1601.7" x2="981.6" y2="1601.7" stroke="#444" stroke-width="1.4" />
<line x1="971.1" y1="1576.2" x2="981.6" y2="1576.2" stroke="#000" stroke-width="2.2" />
<line x1="977" y1="1550.7" x2="981.6" y2="1550.7" stroke="#444" stroke-width="1.4" />
<line x1="977" y1="1525.2" x2="981.6" y2="1525.2" stroke="#444" stroke-width="1.4" />
<line x1="977" y1="1499.7" x2="981.6" y2="1499.7" stroke="#444" stroke-width="1.4" />
<line x1="971.1" y1="1474.2" x2="981.6" y2="1474.2" stroke="#000" stroke-width="2.2" />
<line x1="977" y1="1448.7" x2="981.6" y2="1448.7" stroke="#444" stroke-width="1.4" />
<line x1="977" y1="1423.2" x2="981.6" y2="1423.2" stroke="#444" stroke-width="1.4" />
<line x1="977" y1="1397.7" x2="981.6" y2="1397.7" stroke="#444" stroke-width="1.4" />
<line x1="971.1" y1="1372.2" x2="981.6" y2="1372.2" stroke="#000" stroke-width="2.2" />
<line x1="977" y1="1346.7" x2="981.6" y2="1346.7" stroke="#444" stroke-width="1.4" />
<line x1="977" y1="1321.2" x2="981.6" y2="1321.2" stroke="#444" stroke-width="1.4" />
<text transform="translate(964.4 1678.4)" font-size="13.3" text-anchor="end" fill="#1a1a1a" letter-spacing="0.9" stroke="#1a1a1a" stroke-width="0.25" stroke-linejoin="round">0</text>
<text transform="translate(964.4 1584.5)" font-size="13.3" text-anchor="end" fill="#1a1a1a" letter-spacing="0.9" stroke="#1a1a1a" stroke-width="0.25" stroke-linejoin="round">200</text>
<text transform="translate(964.4 1482.5)" font-size="13.3" text-anchor="end" fill="#1a1a1a" letter-spacing="0.9" stroke="#1a1a1a" stroke-width="0.25" stroke-linejoin="round">400</text>
<text transform="translate(964.4 1380.5)" font-size="13.3" text-anchor="end" fill="#1a1a1a" letter-spacing="0.9" stroke="#1a1a1a" stroke-width="0.25" stroke-linejoin="round">600</text>
<text transform="translate(930 1500.4) rotate(-90)" font-size="16.9" text-anchor="middle" fill="#1a1a1a"  stroke="#1a1a1a" stroke-width="0.3" stroke-linejoin="round">Count</text>
<line x1="982.2" y1="1680.2" x2="982.2" y2="1689.6" stroke="#000" stroke-width="2.2" />
<line x1="1010.63" y1="1680.2" x2="1010.63" y2="1684.5" stroke="#222" stroke-width="1.4" />
<line x1="1028.08" y1="1680.2" x2="1028.08" y2="1684.5" stroke="#222" stroke-width="1.4" />
<line x1="1040.46" y1="1680.2" x2="1040.46" y2="1684.5" stroke="#222" stroke-width="1.4" />
<line x1="1050.07" y1="1680.2" x2="1050.07" y2="1685.8" stroke="#000" stroke-width="2" />
<line x1="1057.91" y1="1680.2" x2="1057.91" y2="1684.5" stroke="#222" stroke-width="1.4" />
<line x1="1064.55" y1="1680.2" x2="1064.55" y2="1684.5" stroke="#222" stroke-width="1.4" />
<line x1="1070.3" y1="1680.2" x2="1070.3" y2="1684.5" stroke="#222" stroke-width="1.4" />
<line x1="1075.37" y1="1680.2" x2="1075.37" y2="1684.5" stroke="#222" stroke-width="1.4" />
<text transform="translate(988.7 1720.5)" font-size="13.2" fill="#1a1a1a" >10</text>
<text transform="translate(1005.2 1709)" font-size="12.6" fill="#1a1a1a" >2</text>
<line x1="1080.6" y1="1680.2" x2="1080.6" y2="1689.6" stroke="#000" stroke-width="2.2" />
<line x1="1110.49" y1="1680.2" x2="1110.49" y2="1684.5" stroke="#222" stroke-width="1.4" />
<line x1="1127.98" y1="1680.2" x2="1127.98" y2="1684.5" stroke="#222" stroke-width="1.4" />
<line x1="1140.38" y1="1680.2" x2="1140.38" y2="1684.5" stroke="#222" stroke-width="1.4" />
<line x1="1150.01" y1="1680.2" x2="1150.01" y2="1685.8" stroke="#000" stroke-width="2" />
<line x1="1157.87" y1="1680.2" x2="1157.87" y2="1684.5" stroke="#222" stroke-width="1.4" />
<line x1="1164.52" y1="1680.2" x2="1164.52" y2="1684.5" stroke="#222" stroke-width="1.4" />
<line x1="1170.28" y1="1680.2" x2="1170.28" y2="1684.5" stroke="#222" stroke-width="1.4" />
<line x1="1175.36" y1="1680.2" x2="1175.36" y2="1684.5" stroke="#222" stroke-width="1.4" />
<text transform="translate(1074.5 1720.5)" font-size="13.2" fill="#1a1a1a" >10</text>
<text transform="translate(1091 1709)" font-size="12.6" fill="#1a1a1a" >3</text>
<line x1="1179.4" y1="1680.2" x2="1179.4" y2="1689.6" stroke="#000" stroke-width="2.2" />
<line x1="1209.68" y1="1680.2" x2="1209.68" y2="1684.5" stroke="#222" stroke-width="1.4" />
<line x1="1227.4" y1="1680.2" x2="1227.4" y2="1684.5" stroke="#222" stroke-width="1.4" />
<line x1="1239.97" y1="1680.2" x2="1239.97" y2="1684.5" stroke="#222" stroke-width="1.4" />
<line x1="1249.72" y1="1680.2" x2="1249.72" y2="1685.8" stroke="#000" stroke-width="2" />
<line x1="1257.68" y1="1680.2" x2="1257.68" y2="1684.5" stroke="#222" stroke-width="1.4" />
<line x1="1264.42" y1="1680.2" x2="1264.42" y2="1684.5" stroke="#222" stroke-width="1.4" />
<line x1="1270.25" y1="1680.2" x2="1270.25" y2="1684.5" stroke="#222" stroke-width="1.4" />
<line x1="1275.4" y1="1680.2" x2="1275.4" y2="1684.5" stroke="#222" stroke-width="1.4" />
<text transform="translate(1173.3 1720.5)" font-size="13.2" fill="#1a1a1a" >10</text>
<text transform="translate(1189.8 1709)" font-size="12.6" fill="#1a1a1a" >4</text>
<line x1="1280.6" y1="1680.2" x2="1280.6" y2="1689.6" stroke="#000" stroke-width="2.2" />
<line x1="1310.88" y1="1680.2" x2="1310.88" y2="1684.5" stroke="#222" stroke-width="1.4" />
<line x1="1328.6" y1="1680.2" x2="1328.6" y2="1684.5" stroke="#222" stroke-width="1.4" />
<text transform="translate(1274.5 1720.5)" font-size="13.2" fill="#1a1a1a" >10</text>
<text transform="translate(1291 1709)" font-size="12.6" fill="#1a1a1a" >5</text>
<text transform="translate(1158.4 1751.1)" font-size="16.85" text-anchor="middle" fill="#1a1a1a"  stroke="#1a1a1a" stroke-width="0.25" stroke-linejoin="round">Comp-FL11-A :: APC-A</text>
<line x1="1148.6" y1="1496.5" x2="1317" y2="1496.5" stroke="#111" stroke-width="2" />
<line x1="1148.6" y1="1488.7" x2="1148.6" y2="1504.3" stroke="#111" stroke-width="1.9" />
<line x1="1317" y1="1488.7" x2="1317" y2="1504.3" stroke="#111" stroke-width="1.9" />
<text transform="translate(1231.3 1448.6)" font-size="16.9" text-anchor="middle" fill="#1a1a1a"  stroke="#1a1a1a" stroke-width="0.25" stroke-linejoin="round">CD206+</text>
<text transform="translate(1231.3 1473.4)" font-size="16.9" text-anchor="middle" fill="#1a1a1a"  stroke="#1a1a1a" stroke-width="0.25" stroke-linejoin="round">0.90%</text>
<text transform="translate(1157 1288) scale(1 0.970)" font-size="48.8" text-anchor="middle" >LPS+si-NC</text>
<path d="M1407.4,1677.6 L1448.5,1677.6 L1452.5,1677.4 L1459.6,1675.2 L1466.7,1672.4 L1472.4,1669.6 L1478,1667.2 L1480,1667.87 L1483.44,1663.29 L1486.87,1657.57 L1490.31,1647.26 L1494.31,1639.24 L1497.18,1627.79 L1499.47,1616.34 L1502.33,1606.04 L1504.62,1596.88 L1507.48,1585.43 L1510.34,1576.26 L1512.63,1569.39 L1514.35,1559.09 L1516.64,1547.64 L1518.36,1535.04 L1520.08,1524.74 L1521.45,1514.43 L1522.94,1508.7 L1524.66,1506.99 L1527.18,1506.99 L1528.67,1501.83 L1530.38,1490.38 L1532.1,1480.08 L1533.82,1476.64 L1536.11,1473.21 L1538.4,1470.34 L1539.54,1474.35 L1541.26,1483.51 L1542.98,1490.38 L1545.27,1493.82 L1547.56,1497.25 L1549.85,1502.98 L1551.57,1507.56 L1553.29,1511.57 L1555,1512.14 L1556.72,1508.7 L1559.01,1511 L1560.16,1520.16 L1561.53,1530.46 L1563.02,1539.62 L1565.31,1546.49 L1567.03,1555.65 L1568.74,1565.96 L1570.46,1575.12 L1572.75,1581.99 L1574.47,1591.15 L1576.19,1599.17 L1577.9,1607.18 L1579.62,1614.05 L1581.34,1623.21 L1583.06,1632.37 L1584.77,1639.24 L1587.07,1646.11 L1589.36,1651.84 L1591.65,1655.28 L1594.51,1657.57 L1596.8,1658.71 L1599.09,1663.29 L1601.95,1667.87 L1604.81,1670.16 L1609.39,1671.88 L1613.97,1673.6 L1618.55,1675.89 L1624.28,1676.8 L1630.01,1677.49 L1634.01,1677.6 L1763.6,1677.6 Z" fill="#ffb3d9" stroke="none"/>
<line x1="1406.9" y1="1322.4" x2="1764.6" y2="1322.4" stroke="#a9b2b4" stroke-width="1.9" />
<line x1="1763.6" y1="1322" x2="1763.6" y2="1678.2" stroke="#a9b2b4" stroke-width="2" />
<line x1="1406.9" y1="1679.4" x2="1763.6" y2="1679.4" stroke="#c4c9ca" stroke-width="2.4" />
<line x1="1406.9" y1="1321.5" x2="1406.9" y2="1679.2" stroke="#666" stroke-width="1.5" />
<path d="M1407.4,1677.6 L1448.5,1677.6 L1452.5,1677.4 L1459.6,1675.2 L1466.7,1672.4 L1472.4,1669.6 L1478,1667.2 L1480,1667.87 L1483.44,1663.29 L1486.87,1657.57 L1490.31,1647.26 L1494.31,1639.24 L1497.18,1627.79 L1499.47,1616.34 L1502.33,1606.04 L1504.62,1596.88 L1507.48,1585.43 L1510.34,1576.26 L1512.63,1569.39 L1514.35,1559.09 L1516.64,1547.64 L1518.36,1535.04 L1520.08,1524.74 L1521.45,1514.43 L1522.94,1508.7 L1524.66,1506.99 L1527.18,1506.99 L1528.67,1501.83 L1530.38,1490.38 L1532.1,1480.08 L1533.82,1476.64 L1536.11,1473.21 L1538.4,1470.34 L1539.54,1474.35 L1541.26,1483.51 L1542.98,1490.38 L1545.27,1493.82 L1547.56,1497.25 L1549.85,1502.98 L1551.57,1507.56 L1553.29,1511.57 L1555,1512.14 L1556.72,1508.7 L1559.01,1511 L1560.16,1520.16 L1561.53,1530.46 L1563.02,1539.62 L1565.31,1546.49 L1567.03,1555.65 L1568.74,1565.96 L1570.46,1575.12 L1572.75,1581.99 L1574.47,1591.15 L1576.19,1599.17 L1577.9,1607.18 L1579.62,1614.05 L1581.34,1623.21 L1583.06,1632.37 L1584.77,1639.24 L1587.07,1646.11 L1589.36,1651.84 L1591.65,1655.28 L1594.51,1657.57 L1596.8,1658.71 L1599.09,1663.29 L1601.95,1667.87 L1604.81,1670.16 L1609.39,1671.88 L1613.97,1673.6 L1618.55,1675.89 L1624.28,1676.8 L1630.01,1677.49 L1634.01,1677.6 L1763.6,1677.6" fill="none" stroke="#ff1010" stroke-width="2.2" stroke-linejoin="round"/>
<line x1="1396.4" y1="1678.2" x2="1406.9" y2="1678.2" stroke="#000" stroke-width="2.2" />
<line x1="1402.3" y1="1652.7" x2="1406.9" y2="1652.7" stroke="#444" stroke-width="1.4" />
<line x1="1402.3" y1="1627.2" x2="1406.9" y2="1627.2" stroke="#444" stroke-width="1.4" />
<line x1="1402.3" y1="1601.7" x2="1406.9" y2="1601.7" stroke="#444" stroke-width="1.4" />
<line x1="1396.4" y1="1576.2" x2="1406.9" y2="1576.2" stroke="#000" stroke-width="2.2" />
<line x1="1402.3" y1="1550.7" x2="1406.9" y2="1550.7" stroke="#444" stroke-width="1.4" />
<line x1="1402.3" y1="1525.2" x2="1406.9" y2="1525.2" stroke="#444" stroke-width="1.4" />
<line x1="1402.3" y1="1499.7" x2="1406.9" y2="1499.7" stroke="#444" stroke-width="1.4" />
<line x1="1396.4" y1="1474.2" x2="1406.9" y2="1474.2" stroke="#000" stroke-width="2.2" />
<line x1="1402.3" y1="1448.7" x2="1406.9" y2="1448.7" stroke="#444" stroke-width="1.4" />
<line x1="1402.3" y1="1423.2" x2="1406.9" y2="1423.2" stroke="#444" stroke-width="1.4" />
<line x1="1402.3" y1="1397.7" x2="1406.9" y2="1397.7" stroke="#444" stroke-width="1.4" />
<line x1="1396.4" y1="1372.2" x2="1406.9" y2="1372.2" stroke="#000" stroke-width="2.2" />
<line x1="1402.3" y1="1346.7" x2="1406.9" y2="1346.7" stroke="#444" stroke-width="1.4" />
<line x1="1402.3" y1="1321.2" x2="1406.9" y2="1321.2" stroke="#444" stroke-width="1.4" />
<text transform="translate(1389.7 1678.4)" font-size="13.3" text-anchor="end" fill="#1a1a1a" letter-spacing="0.9" stroke="#1a1a1a" stroke-width="0.25" stroke-linejoin="round">0</text>
<text transform="translate(1389.7 1584.5)" font-size="13.3" text-anchor="end" fill="#1a1a1a" letter-spacing="0.9" stroke="#1a1a1a" stroke-width="0.25" stroke-linejoin="round">200</text>
<text transform="translate(1389.7 1482.5)" font-size="13.3" text-anchor="end" fill="#1a1a1a" letter-spacing="0.9" stroke="#1a1a1a" stroke-width="0.25" stroke-linejoin="round">400</text>
<text transform="translate(1389.7 1380.5)" font-size="13.3" text-anchor="end" fill="#1a1a1a" letter-spacing="0.9" stroke="#1a1a1a" stroke-width="0.25" stroke-linejoin="round">600</text>
<text transform="translate(1355.3 1500.4) rotate(-90)" font-size="16.9" text-anchor="middle" fill="#1a1a1a"  stroke="#1a1a1a" stroke-width="0.3" stroke-linejoin="round">Count</text>
<line x1="1407.5" y1="1680.2" x2="1407.5" y2="1689.6" stroke="#000" stroke-width="2.2" />
<line x1="1435.93" y1="1680.2" x2="1435.93" y2="1684.5" stroke="#222" stroke-width="1.4" />
<line x1="1453.38" y1="1680.2" x2="1453.38" y2="1684.5" stroke="#222" stroke-width="1.4" />
<line x1="1465.76" y1="1680.2" x2="1465.76" y2="1684.5" stroke="#222" stroke-width="1.4" />
<line x1="1475.37" y1="1680.2" x2="1475.37" y2="1685.8" stroke="#000" stroke-width="2" />
<line x1="1483.21" y1="1680.2" x2="1483.21" y2="1684.5" stroke="#222" stroke-width="1.4" />
<line x1="1489.85" y1="1680.2" x2="1489.85" y2="1684.5" stroke="#222" stroke-width="1.4" />
<line x1="1495.6" y1="1680.2" x2="1495.6" y2="1684.5" stroke="#222" stroke-width="1.4" />
<line x1="1500.67" y1="1680.2" x2="1500.67" y2="1684.5" stroke="#222" stroke-width="1.4" />
<text transform="translate(1414 1720.5)" font-size="13.2" fill="#1a1a1a" >10</text>
<text transform="translate(1430.5 1709)" font-size="12.6" fill="#1a1a1a" >2</text>
<line x1="1505.9" y1="1680.2" x2="1505.9" y2="1689.6" stroke="#000" stroke-width="2.2" />
<line x1="1535.79" y1="1680.2" x2="1535.79" y2="1684.5" stroke="#222" stroke-width="1.4" />
<line x1="1553.28" y1="1680.2" x2="1553.28" y2="1684.5" stroke="#222" stroke-width="1.4" />
<line x1="1565.68" y1="1680.2" x2="1565.68" y2="1684.5" stroke="#222" stroke-width="1.4" />
<line x1="1575.31" y1="1680.2" x2="1575.31" y2="1685.8" stroke="#000" stroke-width="2" />
<line x1="1583.17" y1="1680.2" x2="1583.17" y2="1684.5" stroke="#222" stroke-width="1.4" />
<line x1="1589.82" y1="1680.2" x2="1589.82" y2="1684.5" stroke="#222" stroke-width="1.4" />
<line x1="1595.58" y1="1680.2" x2="1595.58" y2="1684.5" stroke="#222" stroke-width="1.4" />
<line x1="1600.66" y1="1680.2" x2="1600.66" y2="1684.5" stroke="#222" stroke-width="1.4" />
<text transform="translate(1499.8 1720.5)" font-size="13.2" fill="#1a1a1a" >10</text>
<text transform="translate(1516.3 1709)" font-size="12.6" fill="#1a1a1a" >3</text>
<line x1="1604.7" y1="1680.2" x2="1604.7" y2="1689.6" stroke="#000" stroke-width="2.2" />
<line x1="1634.98" y1="1680.2" x2="1634.98" y2="1684.5" stroke="#222" stroke-width="1.4" />
<line x1="1652.7" y1="1680.2" x2="1652.7" y2="1684.5" stroke="#222" stroke-width="1.4" />
<line x1="1665.27" y1="1680.2" x2="1665.27" y2="1684.5" stroke="#222" stroke-width="1.4" />
<line x1="1675.02" y1="1680.2" x2="1675.02" y2="1685.8" stroke="#000" stroke-width="2" />
<line x1="1682.98" y1="1680.2" x2="1682.98" y2="1684.5" stroke="#222" stroke-width="1.4" />
<line x1="1689.72" y1="1680.2" x2="1689.72" y2="1684.5" stroke="#222" stroke-width="1.4" />
<line x1="1695.55" y1="1680.2" x2="1695.55" y2="1684.5" stroke="#222" stroke-width="1.4" />
<line x1="1700.7" y1="1680.2" x2="1700.7" y2="1684.5" stroke="#222" stroke-width="1.4" />
<text transform="translate(1598.6 1720.5)" font-size="13.2" fill="#1a1a1a" >10</text>
<text transform="translate(1615.1 1709)" font-size="12.6" fill="#1a1a1a" >4</text>
<line x1="1705.9" y1="1680.2" x2="1705.9" y2="1689.6" stroke="#000" stroke-width="2.2" />
<line x1="1736.18" y1="1680.2" x2="1736.18" y2="1684.5" stroke="#222" stroke-width="1.4" />
<line x1="1753.9" y1="1680.2" x2="1753.9" y2="1684.5" stroke="#222" stroke-width="1.4" />
<text transform="translate(1699.8 1720.5)" font-size="13.2" fill="#1a1a1a" >10</text>
<text transform="translate(1716.3 1709)" font-size="12.6" fill="#1a1a1a" >5</text>
<text transform="translate(1583.7 1751.1)" font-size="16.85" text-anchor="middle" fill="#1a1a1a"  stroke="#1a1a1a" stroke-width="0.25" stroke-linejoin="round">Comp-FL11-A :: APC-A</text>
<line x1="1573.9" y1="1496.5" x2="1742.3" y2="1496.5" stroke="#111" stroke-width="2" />
<line x1="1573.9" y1="1488.7" x2="1573.9" y2="1504.3" stroke="#111" stroke-width="1.9" />
<line x1="1742.3" y1="1488.7" x2="1742.3" y2="1504.3" stroke="#111" stroke-width="1.9" />
<text transform="translate(1656.6 1448.6)" font-size="16.9" text-anchor="middle" fill="#1a1a1a"  stroke="#1a1a1a" stroke-width="0.25" stroke-linejoin="round">CD206+</text>
<text transform="translate(1656.6 1473.4)" font-size="16.9" text-anchor="middle" fill="#1a1a1a"  stroke="#1a1a1a" stroke-width="0.25" stroke-linejoin="round">9.36%</text>
<text transform="translate(1590 1288) scale(1 0.970)" font-size="48.8" text-anchor="middle" >LPS+si-DANCR</text>
<rect x="174" y="1897.9" width="5.4" height="354.6" fill="#000" />
<rect x="162.8" y="2247.2" width="709.5" height="5.2" fill="#000" />
<rect x="162.8" y="1898.2" width="13.9" height="5" fill="#000" />
<rect x="162.8" y="1984.7" width="13.9" height="5" fill="#000" />
<rect x="162.8" y="2071.8" width="13.9" height="5" fill="#000" />
<rect x="162.8" y="2160" width="13.9" height="5" fill="#000" />
<text transform="translate(156.5 1909.28) scale(1 1.040)" font-size="25" text-anchor="end"  letter-spacing="0.4" stroke="#000" stroke-width="1.5" stroke-linejoin="round">4000</text>
<text transform="translate(156.5 1995.78) scale(1 1.040)" font-size="25" text-anchor="end"  letter-spacing="0.4" stroke="#000" stroke-width="1.5" stroke-linejoin="round">3000</text>
<text transform="translate(156.5 2082.88) scale(1 1.040)" font-size="25" text-anchor="end"  letter-spacing="0.4" stroke="#000" stroke-width="1.5" stroke-linejoin="round">2000</text>
<text transform="translate(156.5 2171.08) scale(1 1.040)" font-size="25" text-anchor="end"  letter-spacing="0.4" stroke="#000" stroke-width="1.5" stroke-linejoin="round">1000</text>
<text transform="translate(156.5 2258.38) scale(1 1.040)" font-size="25" text-anchor="end"  letter-spacing="0.4" stroke="#000" stroke-width="1.5" stroke-linejoin="round">0</text>
<text transform="translate(83.6 2075) rotate(-90)" font-size="31.6" text-anchor="middle"  stroke="#000" stroke-width="0.8" stroke-linejoin="round">Inflammatory factors (pg/ml)</text>
<rect x="287.1" y="2249.8" width="4.6" height="14.7" fill="#000" />
<text transform="translate(289.9 2292.8)" font-size="26" text-anchor="middle"  stroke="#000" stroke-width="1.2" stroke-linejoin="round">TNF-α</text>
<rect x="198.1" y="2239" width="39.6" height="8.8" fill="#1199b3" />
<rect x="246.3" y="2061.5" width="40.1" height="186.3" fill="#00bf00" />
<rect x="294.5" y="2056.2" width="40.7" height="191.6" fill="#c4914d" />
<rect x="343.2" y="2114.5" width="38.8" height="133.3" fill="#8c8cff" />
<rect x="264.8" y="2047.6" width="3.2" height="14.9" fill="#00bf00" />
<rect x="256.4" y="2046" width="20" height="3.2" fill="#00bf00" />
<rect x="312.9" y="2038.3" width="3.2" height="18.9" fill="#c4914d" />
<rect x="304.5" y="2036.7" width="20" height="3.2" fill="#c4914d" />
<rect x="361" y="2107.3" width="3.2" height="8.2" fill="#8c8cff" />
<rect x="352.6" y="2105.7" width="20" height="3.2" fill="#8c8cff" />
<circle cx="202.9" cy="2240.4" r="4.7" fill="#000"/>
<circle cx="218.2" cy="2239" r="4.7" fill="#000"/>
<circle cx="232.9" cy="2240.4" r="4.7" fill="#000"/>
<rect x="261.3" y="2043.3" width="10" height="10" fill="#000" />
<rect x="261.3" y="2056.2" width="10" height="10" fill="#000" />
<rect x="261.3" y="2071.2" width="10" height="10" fill="#000" />
<polygon points="314.5,2034.3 309.9,2043.7 319.1,2043.7" fill="#000"/>
<polygon points="314.5,2052.3 309.9,2061.7 319.1,2061.7" fill="#000"/>
<polygon points="314.5,2067 309.9,2076.4 319.1,2076.4" fill="#000"/>
<polygon points="347.5,2112.5 342.9,2103.1 352.1,2103.1" fill="#000"/>
<polygon points="377.5,2117.4 372.9,2108 382.1,2108" fill="#000"/>
<polygon points="347.5,2127.3 342.9,2117.9 352.1,2117.9" fill="#000"/>
<rect x="219" y="2019.7" width="46.6" height="5" fill="#000" />
<text x="222 243 264" y="2015.9" font-size="32.5" font-weight="bold" text-anchor="middle" stroke="#000" stroke-width="1.3" stroke-linejoin="round" style="font-family:'DejaVu Sans','Liberation Sans',sans-serif">***</text>
<rect x="311.9" y="2019.7" width="51.6" height="5" fill="#000" />
<text x="316 337 358" y="2015.9" font-size="32.5" font-weight="bold" text-anchor="middle" stroke="#000" stroke-width="1.3" stroke-linejoin="round" style="font-family:'DejaVu Sans','Liberation Sans',sans-serif">***</text>
<rect x="520.5" y="2249.8" width="4.6" height="14.7" fill="#000" />
<text transform="translate(523.3 2292.8)" font-size="26" text-anchor="middle"  stroke="#000" stroke-width="1.2" stroke-linejoin="round">IL-6</text>
<rect x="478.5" y="2088.4" width="40.9" height="159.4" fill="#00bf00" />
<rect x="527.4" y="2082.1" width="40.5" height="165.7" fill="#c4914d" />
<rect x="575.6" y="2141.2" width="40.9" height="106.6" fill="#8c8cff" />
<rect x="497.8" y="2078.4" width="3.2" height="11" fill="#00bf00" />
<rect x="489.4" y="2076.8" width="20" height="3.2" fill="#00bf00" />
<rect x="546.3" y="2071.3" width="3.2" height="11.8" fill="#c4914d" />
<rect x="537.9" y="2069.7" width="20" height="3.2" fill="#c4914d" />
<rect x="594.9" y="2136.4" width="3.2" height="5.8" fill="#8c8cff" />
<rect x="586.5" y="2134.8" width="20" height="3.2" fill="#8c8cff" />
<circle cx="435.9" cy="2250.3" r="4.7" fill="#000"/>
<circle cx="450.5" cy="2250.3" r="4.7" fill="#000"/>
<circle cx="465.8" cy="2250.3" r="4.7" fill="#000"/>
<rect x="494.4" y="2072.5" width="10" height="10" fill="#000" />
<rect x="480.1" y="2090.5" width="10" height="10" fill="#000" />
<rect x="508.7" y="2086.3" width="10" height="10" fill="#000" />
<polygon points="547.9,2067.1 543.3,2076.5 552.5,2076.5" fill="#000"/>
<polygon points="562.8,2079.4 558.2,2088.8 567.4,2088.8" fill="#000"/>
<polygon points="533.4,2088 528.8,2097.4 538,2097.4" fill="#000"/>
<polygon points="596.5,2139.4 591.9,2130 601.1,2130" fill="#000"/>
<polygon points="581.3,2150.8 576.7,2141.4 585.9,2141.4" fill="#000"/>
<polygon points="611.3,2150.2 606.7,2140.8 615.9,2140.8" fill="#000"/>
<rect x="450.8" y="2049.3" width="46.9" height="5" fill="#000" />
<text x="453.5 474.5 495.5" y="2045.9" font-size="32.5" font-weight="bold" text-anchor="middle" stroke="#000" stroke-width="1.3" stroke-linejoin="round" style="font-family:'DejaVu Sans','Liberation Sans',sans-serif">***</text>
<rect x="547.1" y="2050.8" width="48.5" height="5" fill="#000" />
<text x="550.6 571.6 592.6" y="2048.2" font-size="32.5" font-weight="bold" text-anchor="middle" stroke="#000" stroke-width="1.3" stroke-linejoin="round" style="font-family:'DejaVu Sans','Liberation Sans',sans-serif">***</text>
<rect x="754.1" y="2249.8" width="4.6" height="14.7" fill="#000" />
<text transform="translate(756.9 2292.8)" font-size="26" text-anchor="middle"  stroke="#000" stroke-width="1.2" stroke-linejoin="round">IL-1β</text>
<rect x="713.3" y="2028.4" width="39.9" height="219.4" fill="#00bf00" />
<rect x="761.2" y="2023.6" width="40.8" height="224.2" fill="#c4914d" />
<rect x="809.8" y="2085.5" width="39.1" height="162.3" fill="#8c8cff" />
<rect x="731.6" y="2012.7" width="3.2" height="16.7" fill="#00bf00" />
<rect x="723.2" y="2011.1" width="20" height="3.2" fill="#00bf00" />
<rect x="779.6" y="2000.7" width="3.2" height="23.9" fill="#c4914d" />
<rect x="771.2" y="1999.1" width="20" height="3.2" fill="#c4914d" />
<rect x="827.6" y="2077.5" width="3.2" height="9" fill="#8c8cff" />
<rect x="819.2" y="2075.9" width="20" height="3.2" fill="#8c8cff" />
<circle cx="669.8" cy="2250.3" r="4.7" fill="#000"/>
<circle cx="685" cy="2250.3" r="4.7" fill="#000"/>
<circle cx="700.4" cy="2250.3" r="4.7" fill="#000"/>
<rect x="728.2" y="2007.7" width="10" height="10" fill="#000" />
<rect x="728.2" y="2020.6" width="10" height="10" fill="#000" />
<rect x="728.2" y="2041.1" width="10" height="10" fill="#000" />
<polygon points="766.4,2006 761.8,2015.4 771,2015.4" fill="#000"/>
<polygon points="796.3,2007.2 791.7,2016.6 800.9,2016.6" fill="#000"/>
<polygon points="781.2,2045.7 776.6,2055.1 785.8,2055.1" fill="#000"/>
<polygon points="829.2,2079.7 824.6,2070.3 833.8,2070.3" fill="#000"/>
<polygon points="814.6,2097.4 810,2088 819.2,2088" fill="#000"/>
<polygon points="844.9,2094.5 840.3,2085.1 849.5,2085.1" fill="#000"/>
<rect x="680.7" y="1983.1" width="52" height="5" fill="#000" />
<text x="685.4 706.4 727.4" y="1980.2" font-size="32.5" font-weight="bold" text-anchor="middle" stroke="#000" stroke-width="1.3" stroke-linejoin="round" style="font-family:'DejaVu Sans','Liberation Sans',sans-serif">***</text>
<rect x="779.2" y="1982.2" width="51.4" height="5" fill="#000" />
<text x="784.5 805.5 826.5" y="1978.8" font-size="32.5" font-weight="bold" text-anchor="middle" stroke="#000" stroke-width="1.3" stroke-linejoin="round" style="font-family:'DejaVu Sans','Liberation Sans',sans-serif">***</text>
<rect x="242" y="1850" width="37.3" height="18.5" fill="#1199b3" />
<text transform="translate(298.8 1868.9) scale(1 1.030)" font-size="29"  stroke="#000" stroke-width="0.3" stroke-linejoin="round">Control</text>
<rect x="242" y="1897.3" width="37.3" height="18.5" fill="#00bf00" />
<text transform="translate(298.8 1916.2) scale(1 1.030)" font-size="29"  stroke="#000" stroke-width="0.3" stroke-linejoin="round">LPS</text>
<rect x="536.8" y="1850" width="37.3" height="18.5" fill="#c4914d" />
<text transform="translate(594.8 1868.9) scale(1 1.030)" font-size="29"  stroke="#000" stroke-width="0.3" stroke-linejoin="round">LPS+si-NC</text>
<rect x="536.8" y="1897.3" width="37.3" height="18.5" fill="#8c8cff" />
<text transform="translate(594.8 1916.2) scale(1 1.030)" font-size="29"  stroke="#000" stroke-width="0.3" stroke-linejoin="round">LPS+si-DANCR</text>
<rect x="1051.4" y="1897.9" width="5.4" height="354.6" fill="#000" />
<rect x="1037.8" y="2247.2" width="709.6" height="5.2" fill="#000" />
<rect x="1037.8" y="1898.2" width="16.3" height="5" fill="#000" />
<rect x="1037.8" y="1984.9" width="16.3" height="5" fill="#000" />
<rect x="1037.8" y="2071.9" width="16.3" height="5" fill="#000" />
<rect x="1037.8" y="2159.4" width="16.3" height="5" fill="#000" />
<text transform="translate(1033.9 1909.28) scale(1 1.040)" font-size="25" text-anchor="end"  letter-spacing="0.4" stroke="#000" stroke-width="1.5" stroke-linejoin="round">8</text>
<text transform="translate(1033.9 1995.98) scale(1 1.040)" font-size="25" text-anchor="end"  letter-spacing="0.4" stroke="#000" stroke-width="1.5" stroke-linejoin="round">6</text>
<text transform="translate(1033.9 2082.98) scale(1 1.040)" font-size="25" text-anchor="end"  letter-spacing="0.4" stroke="#000" stroke-width="1.5" stroke-linejoin="round">4</text>
<text transform="translate(1033.9 2170.48) scale(1 1.040)" font-size="25" text-anchor="end"  letter-spacing="0.4" stroke="#000" stroke-width="1.5" stroke-linejoin="round">2</text>
<text transform="translate(1033.9 2258.38) scale(1 1.040)" font-size="25" text-anchor="end"  letter-spacing="0.4" stroke="#000" stroke-width="1.5" stroke-linejoin="round">0</text>
<text transform="translate(1003 2075.7) rotate(-90)" font-size="30.6" text-anchor="middle"  stroke="#000" stroke-width="0.8" stroke-linejoin="round">Relative mRNA levels</text>
<rect x="1163.4" y="2249.8" width="4.6" height="14.7" fill="#000" />
<text transform="translate(1166.2 2292.8)" font-size="26" text-anchor="middle"  stroke="#000" stroke-width="1.2" stroke-linejoin="round">TNF-α</text>
<rect x="1073.9" y="2207.4" width="40.2" height="40.4" fill="#1199b3" />
<rect x="1122.1" y="2016.3" width="40.7" height="231.5" fill="#00bf00" />
<rect x="1170.8" y="2019" width="39.1" height="228.8" fill="#c4914d" />
<rect x="1217.9" y="2085.1" width="41.5" height="162.7" fill="#8c8cff" />
<rect x="1092.4" y="2200.7" width="3.2" height="7.7" fill="#1199b3" />
<rect x="1084" y="2199.1" width="20" height="3.2" fill="#1199b3" />
<rect x="1140.6" y="2005.6" width="3.2" height="11.7" fill="#00bf00" />
<rect x="1132.2" y="2004" width="20" height="3.2" fill="#00bf00" />
<rect x="1188.8" y="2008.3" width="3.2" height="11.7" fill="#c4914d" />
<rect x="1180.4" y="2006.7" width="20" height="3.2" fill="#c4914d" />
<rect x="1237" y="2079.7" width="3.2" height="6.4" fill="#8c8cff" />
<rect x="1228.6" y="2078.1" width="20" height="3.2" fill="#8c8cff" />
<circle cx="1094" cy="2200.7" r="4.7" fill="#000"/>
<circle cx="1079.3" cy="2210.4" r="4.7" fill="#000"/>
<circle cx="1109.3" cy="2209" r="4.7" fill="#000"/>
<rect x="1137.2" y="2001.1" width="10" height="10" fill="#000" />
<rect x="1151.9" y="2012.4" width="10" height="10" fill="#000" />
<rect x="1121.9" y="2023.1" width="10" height="10" fill="#000" />
<polygon points="1175.6,2008.1 1171,2017.5 1180.2,2017.5" fill="#000"/>
<polygon points="1205.6,2010.8 1201,2020.2 1210.2,2020.2" fill="#000"/>
<polygon points="1190.4,2024.2 1185.8,2033.6 1195,2033.6" fill="#000"/>
<polygon points="1223.3,2083.7 1218.7,2074.3 1227.9,2074.3" fill="#000"/>
<polygon points="1253.3,2089.8 1248.7,2080.4 1257.9,2080.4" fill="#000"/>
<polygon points="1223.3,2096.5 1218.7,2087.1 1227.9,2087.1" fill="#000"/>
<rect x="1090" y="1986.5" width="50" height="5" fill="#000" />
<text x="1093.9 1114.9 1135.9" y="1981" font-size="34.5" font-weight="bold" text-anchor="middle" stroke="#000" stroke-width="1.3" stroke-linejoin="round" style="font-family:'DejaVu Sans','Liberation Sans',sans-serif">***</text>
<rect x="1187.7" y="1990.8" width="48.2" height="5" fill="#000" />
<text x="1190.8 1211.8 1232.8" y="1987.1" font-size="34.5" font-weight="bold" text-anchor="middle" stroke="#000" stroke-width="1.3" stroke-linejoin="round" style="font-family:'DejaVu Sans','Liberation Sans',sans-serif">***</text>
<rect x="1396.2" y="2249.8" width="4.6" height="14.7" fill="#000" />
<text transform="translate(1399 2292.8)" font-size="26" text-anchor="middle"  stroke="#000" stroke-width="1.2" stroke-linejoin="round">IL-6</text>
<rect x="1306.8" y="2207.8" width="39.5" height="40" fill="#1199b3" />
<rect x="1355.4" y="2027.9" width="39.4" height="219.9" fill="#00bf00" />
<rect x="1403.4" y="2028.4" width="40.5" height="219.4" fill="#c4914d" />
<rect x="1451.9" y="2071.8" width="40" height="176" fill="#8c8cff" />
<rect x="1325.2" y="2201.2" width="3.2" height="7.6" fill="#1199b3" />
<rect x="1316.8" y="2199.6" width="20" height="3.2" fill="#1199b3" />
<rect x="1373.8" y="2013.6" width="3.2" height="15.3" fill="#00bf00" />
<rect x="1365.4" y="2012" width="20" height="3.2" fill="#00bf00" />
<rect x="1421.7" y="2025" width="3.2" height="4.4" fill="#c4914d" />
<rect x="1413.3" y="2023.4" width="20" height="3.2" fill="#c4914d" />
<rect x="1470.3" y="2068.5" width="3.2" height="4.3" fill="#8c8cff" />
<rect x="1461.9" y="2066.9" width="20" height="3.2" fill="#8c8cff" />
<circle cx="1326.8" cy="2200.6" r="4.7" fill="#000"/>
<circle cx="1311.4" cy="2211.2" r="4.7" fill="#000"/>
<circle cx="1342" cy="2206.9" r="4.7" fill="#000"/>
<rect x="1370.4" y="2007.7" width="10" height="10" fill="#000" />
<rect x="1385.5" y="2024.9" width="10" height="10" fill="#000" />
<rect x="1355.5" y="2034.3" width="10" height="10" fill="#000" />
<polygon points="1423.3,2020 1418.7,2029.4 1427.9,2029.4" fill="#000"/>
<polygon points="1438.5,2026 1433.9,2035.4 1443.1,2035.4" fill="#000"/>
<polygon points="1407.6,2029.4 1403,2038.8 1412.2,2038.8" fill="#000"/>
<polygon points="1471.9,2073.1 1467.3,2063.7 1476.5,2063.7" fill="#000"/>
<polygon points="1456.8,2080.2 1452.2,2070.8 1461.4,2070.8" fill="#000"/>
<polygon points="1487,2075.4 1482.4,2066 1491.6,2066" fill="#000"/>
<rect x="1322.8" y="1994" width="52" height="5" fill="#000" />
<text x="1328.1 1349.1 1370.1" y="1990.5" font-size="34.5" font-weight="bold" text-anchor="middle" stroke="#000" stroke-width="1.3" stroke-linejoin="round" style="font-family:'DejaVu Sans','Liberation Sans',sans-serif">***</text>
<rect x="1419.1" y="2002.5" width="52.8" height="5" fill="#000" />
<text x="1435.7 1456.7" y="2000.2" font-size="34.5" font-weight="bold" text-anchor="middle" stroke="#000" stroke-width="1.3" stroke-linejoin="round" style="font-family:'DejaVu Sans','Liberation Sans',sans-serif">**</text>
<rect x="1629.5" y="2249.8" width="4.6" height="14.7" fill="#000" />
<text transform="translate(1632.3 2292.8)" font-size="26" text-anchor="middle"  stroke="#000" stroke-width="1.2" stroke-linejoin="round">IL-1β</text>
<rect x="1541" y="2206.9" width="39.4" height="40.9" fill="#1199b3" />
<rect x="1589" y="2024.1" width="40.5" height="223.7" fill="#00bf00" />
<rect x="1637.5" y="2030.7" width="39.1" height="217.1" fill="#c4914d" />
<rect x="1686" y="2114.1" width="39.5" height="133.7" fill="#8c8cff" />
<rect x="1559.1" y="2199.8" width="3.2" height="8.1" fill="#1199b3" />
<rect x="1550.7" y="2198.2" width="20" height="3.2" fill="#1199b3" />
<rect x="1607.4" y="2007.6" width="3.2" height="17.5" fill="#00bf00" />
<rect x="1599" y="2006" width="20" height="3.2" fill="#00bf00" />
<rect x="1655" y="2018.4" width="3.2" height="13.3" fill="#c4914d" />
<rect x="1646.6" y="2016.8" width="20" height="3.2" fill="#c4914d" />
<rect x="1703.9" y="2105" width="3.2" height="10.1" fill="#8c8cff" />
<rect x="1695.5" y="2103.4" width="20" height="3.2" fill="#8c8cff" />
<circle cx="1545.6" cy="2202.6" r="4.7" fill="#000"/>
<circle cx="1575.5" cy="2204" r="4.7" fill="#000"/>
<circle cx="1545.6" cy="2213.2" r="4.7" fill="#000"/>
<rect x="1588.8" y="2006.9" width="10" height="10" fill="#000" />
<rect x="1618.8" y="2012" width="10" height="10" fill="#000" />
<rect x="1603.4" y="2037.7" width="10" height="10" fill="#000" />
<polygon points="1640.9,2016.6 1636.3,2026 1645.5,2026" fill="#000"/>
<polygon points="1671.2,2022.9 1666.6,2032.3 1675.8,2032.3" fill="#000"/>
<polygon points="1656.6,2040 1652,2049.4 1661.2,2049.4" fill="#000"/>
<polygon points="1705.5,2106.8 1700.9,2097.4 1710.1,2097.4" fill="#000"/>
<polygon points="1719.5,2119.7 1714.9,2110.3 1724.1,2110.3" fill="#000"/>
<polygon points="1690.9,2126.8 1686.3,2117.4 1695.5,2117.4" fill="#000"/>
<rect x="1560.4" y="1992.5" width="48.6" height="5" fill="#000" />
<text x="1564.3 1585.3 1606.3" y="1988.8" font-size="34.5" font-weight="bold" text-anchor="middle" stroke="#000" stroke-width="1.3" stroke-linejoin="round" style="font-family:'DejaVu Sans','Liberation Sans',sans-serif">***</text>
<rect x="1655.2" y="1997.4" width="45.1" height="5" fill="#000" />
<text x="1657.3 1678.3 1699.3" y="1993.9" font-size="34.5" font-weight="bold" text-anchor="middle" stroke="#000" stroke-width="1.3" stroke-linejoin="round" style="font-family:'DejaVu Sans','Liberation Sans',sans-serif">***</text>
<rect x="1116.8" y="1850" width="37.3" height="18.5" fill="#1199b3" />
<text transform="translate(1175.2 1868.9) scale(1 1.030)" font-size="29"  stroke="#000" stroke-width="0.3" stroke-linejoin="round">Control</text>
<rect x="1116.8" y="1897.3" width="37.3" height="18.5" fill="#00bf00" />
<text transform="translate(1175.2 1916.2) scale(1 1.030)" font-size="29"  stroke="#000" stroke-width="0.3" stroke-linejoin="round">LPS</text>
<rect x="1402.8" y="1850" width="37.3" height="18.5" fill="#c4914d" />
<text transform="translate(1460.9 1868.9) scale(1 1.030)" font-size="29"  stroke="#000" stroke-width="0.3" stroke-linejoin="round">LPS+si-NC</text>
<rect x="1402.8" y="1897.3" width="37.3" height="18.5" fill="#8c8cff" />
<text transform="translate(1460.9 1916.2) scale(1 1.030)" font-size="29"  stroke="#000" stroke-width="0.3" stroke-linejoin="round">LPS+si-DANCR</text>
</svg>
</body></html>
